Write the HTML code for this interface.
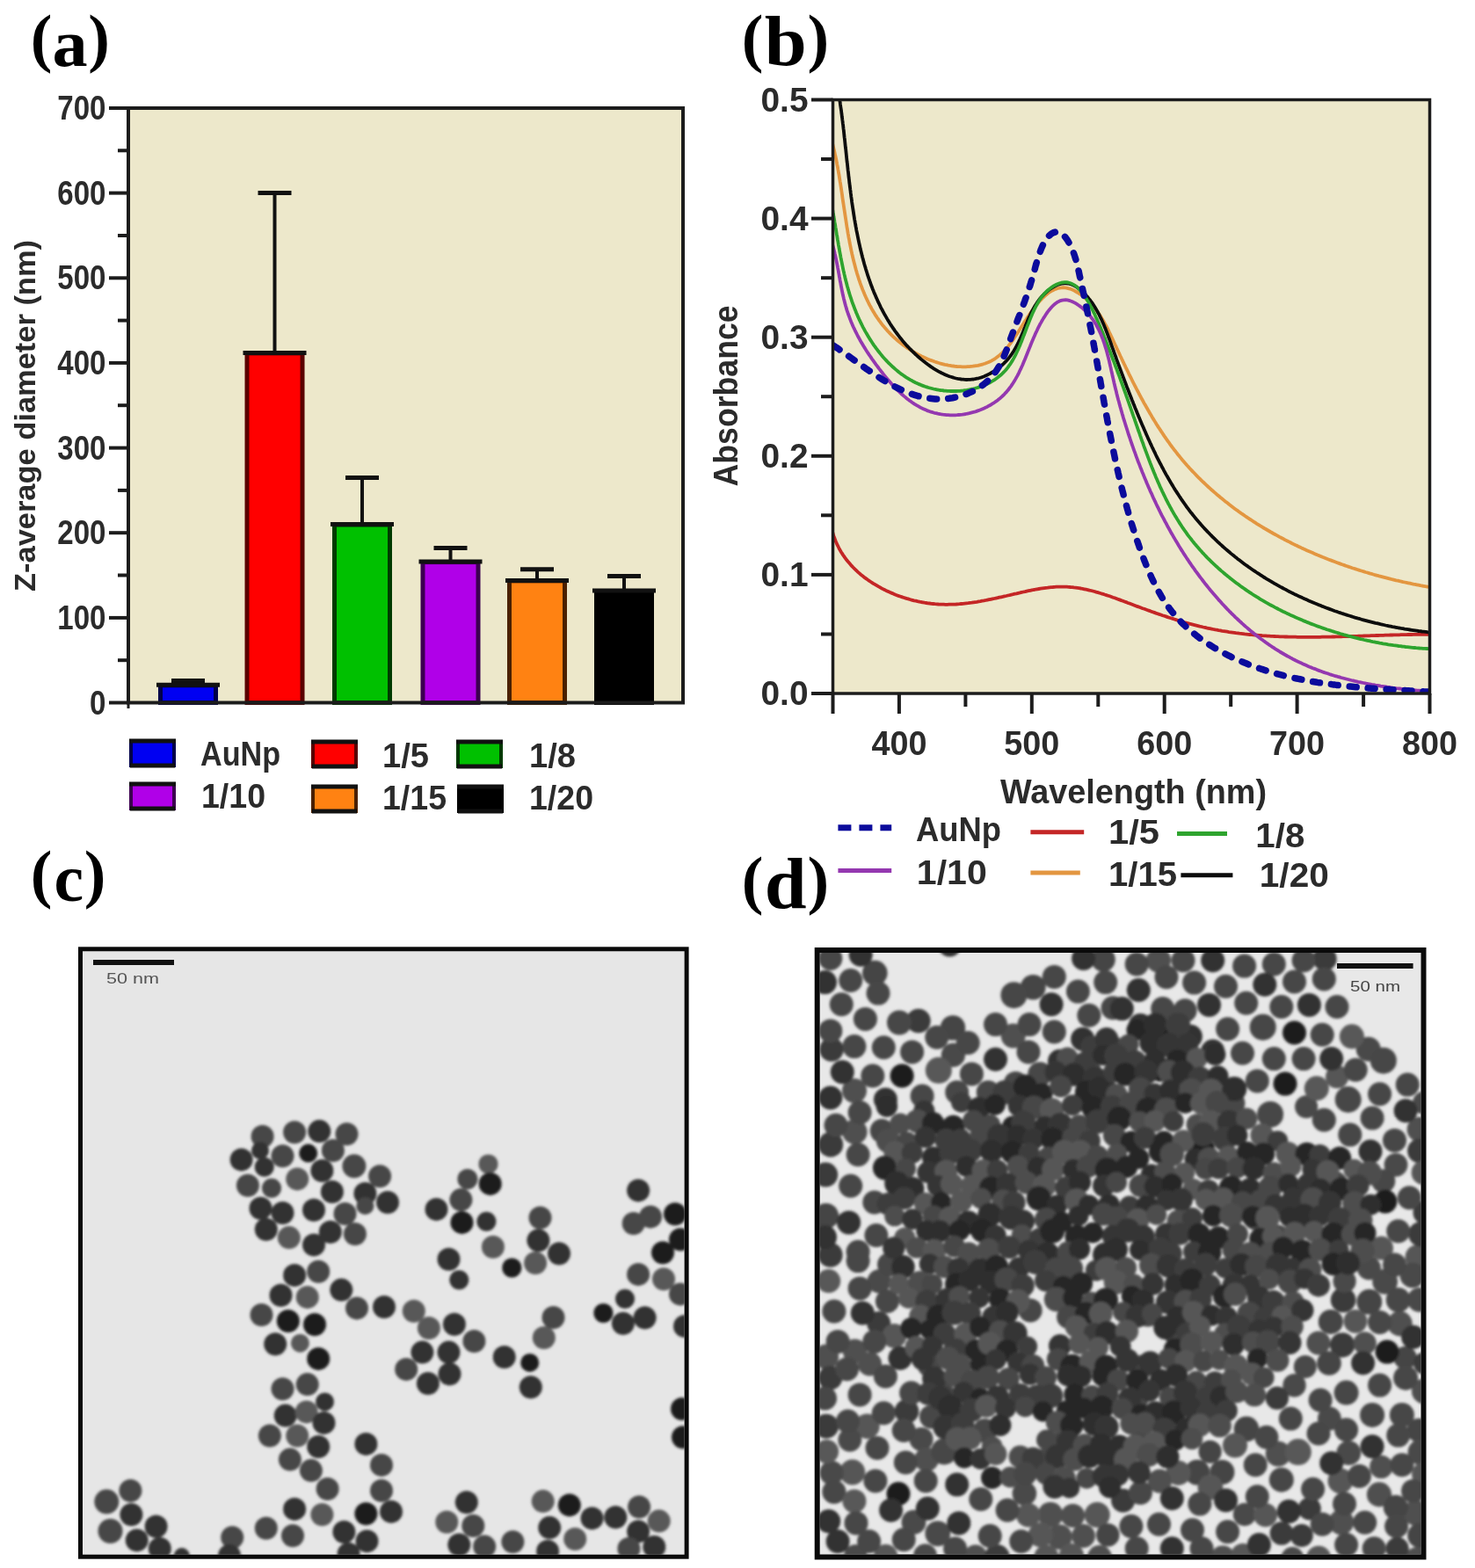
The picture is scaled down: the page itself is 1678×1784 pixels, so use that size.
<!DOCTYPE html>
<html><head><meta charset="utf-8"><title>Figure</title>
<style>html,body{margin:0;padding:0;background:#fff;}svg{display:block;}</style></head>
<body><svg width="1678" height="1784" viewBox="0 0 1678 1784">
<rect width="1678" height="1784" fill="#fff"/>
<text x="34.65" y="68.34" font-size="74.0" fill="#000" style="font-family:'Liberation Serif','Times New Roman',serif;font-weight:bold" textLength="24.64" lengthAdjust="spacingAndGlyphs">(</text>
<text x="59.42" y="74.60" font-size="76.0" fill="#000" style="font-family:'Liberation Serif','Times New Roman',serif;font-weight:bold" textLength="40.10" lengthAdjust="spacingAndGlyphs">a</text>
<text x="100.31" y="68.34" font-size="74.0" fill="#000" style="font-family:'Liberation Serif','Times New Roman',serif;font-weight:bold" textLength="24.64" lengthAdjust="spacingAndGlyphs">)</text>
<text x="843.75" y="68.34" font-size="74.0" fill="#000" style="font-family:'Liberation Serif','Times New Roman',serif;font-weight:bold" textLength="24.64" lengthAdjust="spacingAndGlyphs">(</text>
<text x="869.70" y="73.80" font-size="81.0" fill="#000" style="font-family:'Liberation Serif','Times New Roman',serif;font-weight:bold" textLength="47.99" lengthAdjust="spacingAndGlyphs">b</text>
<text x="918.61" y="68.34" font-size="74.0" fill="#000" style="font-family:'Liberation Serif','Times New Roman',serif;font-weight:bold" textLength="24.64" lengthAdjust="spacingAndGlyphs">)</text>
<text x="34.65" y="1019.34" font-size="74.0" fill="#000" style="font-family:'Liberation Serif','Times New Roman',serif;font-weight:bold" textLength="24.64" lengthAdjust="spacingAndGlyphs">(</text>
<text x="61.61" y="1025.40" font-size="75.5" fill="#000" style="font-family:'Liberation Serif','Times New Roman',serif;font-weight:bold" textLength="33.57" lengthAdjust="spacingAndGlyphs">c</text>
<text x="95.71" y="1019.34" font-size="74.0" fill="#000" style="font-family:'Liberation Serif','Times New Roman',serif;font-weight:bold" textLength="24.64" lengthAdjust="spacingAndGlyphs">)</text>
<text x="843.85" y="1026.34" font-size="74.0" fill="#000" style="font-family:'Liberation Serif','Times New Roman',serif;font-weight:bold" textLength="24.64" lengthAdjust="spacingAndGlyphs">(</text>
<text x="869.81" y="1033.00" font-size="82.0" fill="#000" style="font-family:'Liberation Serif','Times New Roman',serif;font-weight:bold" textLength="47.85" lengthAdjust="spacingAndGlyphs">d</text>
<text x="918.61" y="1026.34" font-size="74.0" fill="#000" style="font-family:'Liberation Serif','Times New Roman',serif;font-weight:bold" textLength="24.64" lengthAdjust="spacingAndGlyphs">)</text>
<rect x="146" y="123" width="631" height="676.5" fill="#ede8cb"/>
<line x1="214.0" y1="777.3" x2="214.0" y2="774.4" stroke="#111" stroke-width="4"/>
<line x1="195.0" y1="774.4" x2="233.0" y2="774.4" stroke="#111" stroke-width="5"/>
<rect x="182.5" y="779.8" width="63.0" height="19.7" fill="#0000f2" stroke="#00004a" stroke-width="5"/>
<line x1="178.0" y1="779.3" x2="250.0" y2="779.3" stroke="#111" stroke-width="5"/>
<line x1="312.5" y1="399.4" x2="312.5" y2="219.6" stroke="#111" stroke-width="4"/>
<line x1="293.5" y1="219.6" x2="331.5" y2="219.6" stroke="#111" stroke-width="5"/>
<rect x="281.0" y="401.9" width="63.0" height="397.6" fill="#ff0000" stroke="#5a0000" stroke-width="5"/>
<line x1="276.5" y1="401.4" x2="348.5" y2="401.4" stroke="#111" stroke-width="5"/>
<line x1="412.0" y1="594.6" x2="412.0" y2="543.4" stroke="#111" stroke-width="4"/>
<line x1="393.0" y1="543.4" x2="431.0" y2="543.4" stroke="#111" stroke-width="5"/>
<rect x="380.5" y="597.1" width="63.0" height="202.4" fill="#00c000" stroke="#003a00" stroke-width="5"/>
<line x1="376.0" y1="596.6" x2="448.0" y2="596.6" stroke="#111" stroke-width="5"/>
<line x1="512.5" y1="637.1" x2="512.5" y2="623.6" stroke="#111" stroke-width="4"/>
<line x1="493.5" y1="623.6" x2="531.5" y2="623.6" stroke="#111" stroke-width="5"/>
<rect x="481.0" y="639.6" width="63.0" height="159.9" fill="#b000e8" stroke="#3c0050" stroke-width="5"/>
<line x1="476.5" y1="639.1" x2="548.5" y2="639.1" stroke="#111" stroke-width="5"/>
<line x1="611.0" y1="658.4" x2="611.0" y2="647.8" stroke="#111" stroke-width="4"/>
<line x1="592.0" y1="647.8" x2="630.0" y2="647.8" stroke="#111" stroke-width="5"/>
<rect x="579.5" y="660.9" width="63.0" height="138.6" fill="#ff8212" stroke="#4a2000" stroke-width="5"/>
<line x1="575.0" y1="660.4" x2="647.0" y2="660.4" stroke="#111" stroke-width="5"/>
<line x1="710.0" y1="670.0" x2="710.0" y2="655.5" stroke="#111" stroke-width="4"/>
<line x1="691.0" y1="655.5" x2="729.0" y2="655.5" stroke="#111" stroke-width="5"/>
<rect x="678.5" y="672.5" width="63.0" height="127.0" fill="#000000" stroke="#000000" stroke-width="5"/>
<line x1="674.0" y1="672.0" x2="746.0" y2="672.0" stroke="#111" stroke-width="5"/>
<rect x="146" y="123" width="631" height="676.5" fill="none" stroke="#1c1c1c" stroke-width="4"/>
<line x1="124" y1="799.5" x2="146" y2="799.5" stroke="#1c1c1c" stroke-width="4"/>
<text x="120.5" y="812.5" font-size="38.0" text-anchor="end" fill="#2b2b2b" style="font-family:'Liberation Sans',Arial,sans-serif;font-weight:bold" textLength="18.4" lengthAdjust="spacingAndGlyphs" >0</text>
<line x1="124" y1="702.9" x2="146" y2="702.9" stroke="#1c1c1c" stroke-width="4"/>
<text x="120.5" y="715.9" font-size="38.0" text-anchor="end" fill="#2b2b2b" style="font-family:'Liberation Sans',Arial,sans-serif;font-weight:bold" textLength="55.2" lengthAdjust="spacingAndGlyphs" >100</text>
<line x1="124" y1="606.2" x2="146" y2="606.2" stroke="#1c1c1c" stroke-width="4"/>
<text x="120.5" y="619.2" font-size="38.0" text-anchor="end" fill="#2b2b2b" style="font-family:'Liberation Sans',Arial,sans-serif;font-weight:bold" textLength="55.2" lengthAdjust="spacingAndGlyphs" >200</text>
<line x1="124" y1="509.6" x2="146" y2="509.6" stroke="#1c1c1c" stroke-width="4"/>
<text x="120.5" y="522.6" font-size="38.0" text-anchor="end" fill="#2b2b2b" style="font-family:'Liberation Sans',Arial,sans-serif;font-weight:bold" textLength="55.2" lengthAdjust="spacingAndGlyphs" >300</text>
<line x1="124" y1="412.9" x2="146" y2="412.9" stroke="#1c1c1c" stroke-width="4"/>
<text x="120.5" y="425.9" font-size="38.0" text-anchor="end" fill="#2b2b2b" style="font-family:'Liberation Sans',Arial,sans-serif;font-weight:bold" textLength="55.2" lengthAdjust="spacingAndGlyphs" >400</text>
<line x1="124" y1="316.3" x2="146" y2="316.3" stroke="#1c1c1c" stroke-width="4"/>
<text x="120.5" y="329.3" font-size="38.0" text-anchor="end" fill="#2b2b2b" style="font-family:'Liberation Sans',Arial,sans-serif;font-weight:bold" textLength="55.2" lengthAdjust="spacingAndGlyphs" >500</text>
<line x1="124" y1="219.6" x2="146" y2="219.6" stroke="#1c1c1c" stroke-width="4"/>
<text x="120.5" y="232.6" font-size="38.0" text-anchor="end" fill="#2b2b2b" style="font-family:'Liberation Sans',Arial,sans-serif;font-weight:bold" textLength="55.2" lengthAdjust="spacingAndGlyphs" >600</text>
<line x1="124" y1="123.0" x2="146" y2="123.0" stroke="#1c1c1c" stroke-width="4"/>
<text x="120.5" y="136.0" font-size="38.0" text-anchor="end" fill="#2b2b2b" style="font-family:'Liberation Sans',Arial,sans-serif;font-weight:bold" textLength="55.2" lengthAdjust="spacingAndGlyphs" >700</text>
<line x1="134" y1="751.2" x2="146" y2="751.2" stroke="#1c1c1c" stroke-width="4"/>
<line x1="134" y1="654.5" x2="146" y2="654.5" stroke="#1c1c1c" stroke-width="4"/>
<line x1="134" y1="557.9" x2="146" y2="557.9" stroke="#1c1c1c" stroke-width="4"/>
<line x1="134" y1="461.2" x2="146" y2="461.2" stroke="#1c1c1c" stroke-width="4"/>
<line x1="134" y1="364.6" x2="146" y2="364.6" stroke="#1c1c1c" stroke-width="4"/>
<line x1="134" y1="268.0" x2="146" y2="268.0" stroke="#1c1c1c" stroke-width="4"/>
<line x1="134" y1="171.3" x2="146" y2="171.3" stroke="#1c1c1c" stroke-width="4"/>
<line x1="146" y1="799.5" x2="146" y2="806" stroke="#1c1c1c" stroke-width="3"/>
<text transform="translate(40,473) rotate(-90)" x="0" y="0" font-size="33" text-anchor="middle" fill="#2b2b2b" style="font-family:'Liberation Sans',Arial,sans-serif;font-weight:bold" textLength="400" lengthAdjust="spacingAndGlyphs">Z-average diameter (nm)</text>
<rect x="149.0" y="843.0" width="49" height="28" fill="#0000f2" stroke="#00004a" stroke-width="4"/>
<line x1="147.0" y1="843.0" x2="200.0" y2="843.0" stroke="#111" stroke-width="5"/>
<line x1="148.0" y1="871.0" x2="199.0" y2="871.0" stroke="#111" stroke-width="5"/>
<text x="228.0" y="870.5" font-size="38.0" text-anchor="start" fill="#2b2b2b" style="font-family:'Liberation Sans',Arial,sans-serif;font-weight:bold" textLength="91.0" lengthAdjust="spacingAndGlyphs" >AuNp</text>
<rect x="356.0" y="844.0" width="49" height="28" fill="#ff0000" stroke="#5a0000" stroke-width="4"/>
<line x1="354.0" y1="844.0" x2="407.0" y2="844.0" stroke="#111" stroke-width="5"/>
<line x1="355.0" y1="872.0" x2="406.0" y2="872.0" stroke="#111" stroke-width="5"/>
<text x="435.0" y="873.4" font-size="38.0" text-anchor="start" fill="#2b2b2b" style="font-family:'Liberation Sans',Arial,sans-serif;font-weight:bold" textLength="53.0" lengthAdjust="spacingAndGlyphs" >1/5</text>
<rect x="521.0" y="844.0" width="49" height="28" fill="#00c000" stroke="#003a00" stroke-width="4"/>
<line x1="519.0" y1="844.0" x2="572.0" y2="844.0" stroke="#111" stroke-width="5"/>
<line x1="520.0" y1="872.0" x2="571.0" y2="872.0" stroke="#111" stroke-width="5"/>
<text x="602.0" y="873.4" font-size="38.0" text-anchor="start" fill="#2b2b2b" style="font-family:'Liberation Sans',Arial,sans-serif;font-weight:bold" textLength="53.0" lengthAdjust="spacingAndGlyphs" >1/8</text>
<rect x="149.0" y="892.0" width="49" height="28" fill="#b000e8" stroke="#3c0050" stroke-width="4"/>
<line x1="147.0" y1="892.0" x2="200.0" y2="892.0" stroke="#111" stroke-width="5"/>
<line x1="148.0" y1="920.0" x2="199.0" y2="920.0" stroke="#111" stroke-width="5"/>
<text x="229.0" y="919.0" font-size="38.0" text-anchor="start" fill="#2b2b2b" style="font-family:'Liberation Sans',Arial,sans-serif;font-weight:bold" textLength="73.0" lengthAdjust="spacingAndGlyphs" >1/10</text>
<rect x="356.0" y="895.0" width="49" height="28" fill="#ff8212" stroke="#4a2000" stroke-width="4"/>
<line x1="354.0" y1="895.0" x2="407.0" y2="895.0" stroke="#111" stroke-width="5"/>
<line x1="355.0" y1="923.0" x2="406.0" y2="923.0" stroke="#111" stroke-width="5"/>
<text x="435.0" y="921.0" font-size="38.0" text-anchor="start" fill="#2b2b2b" style="font-family:'Liberation Sans',Arial,sans-serif;font-weight:bold" textLength="73.0" lengthAdjust="spacingAndGlyphs" >1/15</text>
<rect x="522.0" y="895.0" width="49" height="28" fill="#000000" stroke="#000000" stroke-width="4"/>
<line x1="520.0" y1="895.0" x2="573.0" y2="895.0" stroke="#111" stroke-width="5"/>
<line x1="521.0" y1="923.0" x2="572.0" y2="923.0" stroke="#111" stroke-width="5"/>
<text x="602.0" y="921.0" font-size="38.0" text-anchor="start" fill="#2b2b2b" style="font-family:'Liberation Sans',Arial,sans-serif;font-weight:bold" textLength="73.0" lengthAdjust="spacingAndGlyphs" >1/20</text>
<rect x="947.5" y="113.5" width="679.0" height="675.5" fill="#ede8cb"/>
<defs><clipPath id="cb"><rect x="947.5" y="113.5" width="679.0" height="675.5"/></clipPath></defs>
<g clip-path="url(#cb)" fill="none" stroke-linejoin="round">
<path d="M947.5,606.3L948.0,608.2L948.6,610.1L949.3,612.0L950.0,613.9L950.7,615.7L951.5,617.6L952.3,619.4L953.2,621.2L954.1,623.0L955.0,624.8L956.0,626.5L957.0,628.2L958.1,629.9L959.2,631.6L960.3,633.2L961.5,634.9L962.7,636.5L963.9,638.0L965.2,639.6L966.5,641.1L967.8,642.6L969.2,644.1L970.5,645.5L971.9,646.9L973.4,648.3L974.8,649.7L976.3,651.1L977.8,652.4L979.3,653.7L980.9,654.9L982.5,656.2L984.0,657.4L985.7,658.6L987.3,659.8L988.9,660.9L990.6,662.0L992.3,663.1L993.9,664.2L995.7,665.2L997.4,666.2L999.1,667.2L1000.9,668.2L1002.6,669.2L1004.4,670.1L1006.2,671.0L1008.0,671.9L1009.8,672.7L1011.6,673.5L1013.4,674.4L1015.3,675.1L1017.1,675.9L1019.0,676.7L1020.8,677.4L1022.7,678.1L1024.6,678.7L1026.5,679.4L1028.4,680.0L1030.3,680.6L1032.2,681.2L1034.1,681.7L1036.1,682.3L1038.0,682.8L1039.9,683.3L1041.9,683.7L1043.8,684.2L1045.8,684.6L1047.8,685.0L1049.7,685.3L1051.7,685.7L1053.7,686.0L1055.6,686.3L1057.6,686.5L1059.6,686.8L1061.6,687.0L1063.6,687.2L1065.6,687.3L1067.6,687.5L1069.6,687.6L1071.6,687.7L1073.6,687.7L1075.6,687.8L1077.6,687.8L1079.6,687.7L1081.6,687.7L1083.6,687.6L1085.6,687.6L1087.6,687.5L1089.6,687.3L1091.6,687.2L1093.6,687.0L1095.5,686.8L1097.5,686.6L1099.5,686.4L1101.5,686.2L1103.5,685.9L1105.5,685.7L1107.5,685.4L1109.4,685.1L1111.4,684.8L1113.4,684.4L1115.3,684.1L1117.3,683.7L1119.3,683.4L1121.3,683.0L1123.2,682.6L1125.2,682.2L1127.1,681.8L1129.1,681.4L1131.1,681.0L1133.0,680.6L1135.0,680.2L1136.9,679.7L1138.9,679.3L1140.8,678.9L1142.8,678.4L1144.7,678.0L1146.7,677.5L1148.6,677.1L1150.6,676.6L1152.5,676.2L1154.5,675.7L1156.4,675.3L1158.4,674.8L1160.3,674.4L1162.3,673.9L1164.2,673.5L1166.2,673.1L1168.1,672.6L1170.1,672.2L1172.0,671.8L1174.0,671.4L1176.0,671.0L1177.9,670.7L1179.9,670.3L1181.9,670.0L1183.8,669.7L1185.8,669.4L1187.8,669.1L1189.8,668.8L1191.8,668.6L1193.7,668.3L1195.7,668.1L1197.7,668.0L1199.7,667.8L1201.7,667.7L1203.7,667.6L1205.7,667.6L1207.7,667.6L1209.7,667.6L1211.7,667.6L1213.7,667.7L1215.7,667.8L1217.7,668.0L1219.7,668.1L1221.7,668.4L1223.7,668.6L1225.7,668.9L1227.6,669.2L1229.6,669.5L1231.6,669.9L1233.5,670.3L1235.5,670.7L1237.4,671.1L1239.4,671.6L1241.3,672.0L1243.3,672.5L1245.2,673.0L1247.1,673.6L1249.1,674.1L1251.0,674.7L1252.9,675.3L1254.8,675.8L1256.7,676.5L1258.6,677.1L1260.5,677.7L1262.4,678.3L1264.3,679.0L1266.2,679.7L1268.1,680.3L1269.9,681.0L1271.8,681.7L1273.7,682.4L1275.6,683.1L1277.5,683.7L1279.3,684.4L1281.2,685.1L1283.1,685.9L1284.9,686.6L1286.8,687.3L1288.7,688.0L1290.6,688.7L1292.4,689.4L1294.3,690.1L1296.2,690.8L1298.1,691.5L1299.9,692.2L1301.8,692.8L1303.7,693.5L1305.6,694.2L1307.5,694.9L1309.3,695.6L1311.2,696.2L1313.1,696.9L1315.0,697.6L1316.9,698.2L1318.8,698.9L1320.7,699.5L1322.6,700.2L1324.5,700.8L1326.4,701.4L1328.3,702.1L1330.2,702.7L1332.1,703.3L1334.0,703.9L1335.9,704.5L1337.8,705.1L1339.7,705.7L1341.6,706.3L1343.5,706.8L1345.4,707.4L1347.4,708.0L1349.3,708.5L1351.2,709.0L1353.1,709.6L1355.1,710.1L1357.0,710.6L1358.9,711.1L1360.9,711.6L1362.8,712.1L1364.8,712.6L1366.7,713.0L1368.7,713.5L1370.6,713.9L1372.6,714.4L1374.5,714.8L1376.5,715.2L1378.4,715.6L1380.4,716.0L1382.4,716.4L1384.3,716.7L1386.3,717.1L1388.3,717.4L1390.2,717.8L1392.2,718.1L1394.2,718.4L1396.1,718.7L1398.1,719.1L1400.1,719.3L1402.1,719.6L1404.1,719.9L1406.0,720.2L1408.0,720.4L1410.0,720.7L1412.0,720.9L1414.0,721.1L1416.0,721.4L1418.0,721.6L1420.0,721.8L1421.9,722.0L1423.9,722.2L1425.9,722.4L1427.9,722.5L1429.9,722.7L1431.9,722.9L1433.9,723.0L1435.9,723.2L1437.9,723.3L1439.9,723.4L1441.9,723.6L1443.9,723.7L1445.9,723.8L1447.9,723.9L1449.9,724.0L1451.9,724.1L1453.9,724.2L1455.9,724.3L1457.9,724.3L1459.9,724.4L1461.9,724.5L1463.9,724.5L1465.9,724.6L1467.9,724.6L1469.9,724.7L1471.9,724.7L1473.9,724.7L1475.9,724.8L1477.9,724.8L1479.9,724.8L1481.9,724.8L1483.9,724.8L1485.9,724.8L1487.9,724.8L1489.9,724.8L1491.9,724.8L1493.9,724.8L1495.9,724.8L1497.9,724.8L1499.9,724.8L1501.9,724.8L1503.9,724.7L1505.9,724.7L1507.9,724.7L1509.9,724.6L1511.9,724.6L1513.9,724.6L1515.9,724.5L1517.9,724.5L1519.9,724.4L1521.9,724.4L1523.9,724.3L1525.9,724.3L1527.8,724.2L1529.8,724.2L1531.8,724.1L1533.8,724.1L1535.8,724.0L1537.8,723.9L1539.8,723.9L1541.8,723.8L1543.8,723.8L1545.8,723.7L1547.8,723.6L1549.8,723.6L1551.8,723.5L1553.8,723.4L1555.8,723.4L1557.8,723.3L1559.8,723.2L1561.8,723.2L1563.8,723.1L1565.8,723.0L1567.8,723.0L1569.8,722.9L1571.8,722.8L1573.8,722.8L1575.8,722.7L1577.8,722.7L1579.8,722.6L1581.8,722.5L1583.8,722.5L1585.8,722.4L1587.8,722.4L1589.8,722.3L1591.8,722.3L1593.8,722.2L1595.8,722.2L1597.8,722.1L1599.8,722.1L1601.8,722.0L1603.8,722.0L1605.8,722.0L1607.8,721.9L1609.8,721.9L1611.8,721.9L1613.8,721.9L1615.8,721.8L1617.8,721.8L1619.8,721.8L1621.8,721.8L1623.8,721.8L1625.8,721.8L1625.9,721.8" stroke="#c42626" stroke-width="3.8"/>
<path d="M947.0,163.2L947.5,165.1L948.0,167.1L948.5,169.0L948.9,171.0L949.4,172.9L949.8,174.9L950.2,176.8L950.7,178.8L951.1,180.7L951.5,182.7L951.9,184.6L952.2,186.6L952.6,188.6L953.0,190.5L953.3,192.5L953.7,194.5L954.0,196.5L954.4,198.4L954.7,200.4L955.0,202.4L955.3,204.3L955.6,206.3L956.0,208.3L956.3,210.3L956.6,212.2L956.9,214.2L957.2,216.2L957.5,218.2L957.8,220.2L958.1,222.1L958.3,224.1L958.6,226.1L958.9,228.1L959.2,230.1L959.5,232.0L959.8,234.0L960.1,236.0L960.4,238.0L960.7,239.9L961.0,241.9L961.3,243.9L961.6,245.9L961.9,247.9L962.2,249.8L962.5,251.8L962.8,253.8L963.1,255.8L963.4,257.7L963.7,259.7L964.1,261.7L964.4,263.7L964.7,265.6L965.1,267.6L965.4,269.6L965.8,271.5L966.2,273.5L966.5,275.5L966.9,277.4L967.3,279.4L967.7,281.3L968.1,283.3L968.5,285.3L968.9,287.2L969.3,289.2L969.8,291.1L970.2,293.1L970.7,295.0L971.2,297.0L971.7,298.9L972.2,300.8L972.7,302.8L973.2,304.7L973.7,306.6L974.3,308.6L974.8,310.5L975.4,312.4L976.0,314.3L976.6,316.2L977.2,318.1L977.9,320.0L978.5,321.9L979.2,323.8L979.9,325.7L980.6,327.5L981.3,329.4L982.1,331.2L982.8,333.1L983.6,334.9L984.4,336.8L985.2,338.6L986.1,340.4L986.9,342.2L987.8,344.0L988.7,345.8L989.6,347.6L990.6,349.3L991.5,351.1L992.5,352.8L993.5,354.5L994.6,356.3L995.6,357.9L996.7,359.6L997.8,361.3L999.0,362.9L1000.1,364.6L1001.3,366.2L1002.5,367.8L1003.7,369.4L1005.0,370.9L1006.3,372.5L1007.6,374.0L1008.9,375.5L1010.2,377.0L1011.6,378.4L1013.0,379.9L1014.4,381.3L1015.8,382.7L1017.3,384.0L1018.8,385.4L1020.3,386.7L1021.8,388.0L1023.3,389.3L1024.9,390.5L1026.5,391.7L1028.1,392.9L1029.7,394.1L1031.3,395.3L1033.0,396.4L1034.7,397.5L1036.4,398.6L1038.1,399.6L1039.8,400.6L1041.5,401.6L1043.3,402.6L1045.0,403.6L1046.8,404.5L1048.6,405.4L1050.4,406.2L1052.2,407.1L1054.0,407.9L1055.9,408.7L1057.7,409.4L1059.6,410.1L1061.5,410.8L1063.4,411.5L1065.3,412.1L1067.2,412.7L1069.1,413.3L1071.0,413.8L1072.9,414.3L1074.9,414.8L1076.8,415.2L1078.8,415.6L1080.8,415.9L1082.8,416.3L1084.7,416.5L1086.7,416.8L1088.7,417.0L1090.7,417.1L1092.7,417.2L1094.7,417.3L1096.7,417.3L1098.7,417.3L1100.7,417.2L1102.7,417.1L1104.7,416.9L1106.7,416.7L1108.7,416.4L1110.6,416.1L1112.6,415.8L1114.5,415.3L1116.5,414.8L1118.4,414.3L1120.3,413.7L1122.2,413.0L1124.1,412.3L1125.9,411.5L1127.7,410.6L1129.4,409.6L1131.2,408.6L1132.8,407.5L1134.4,406.3L1136.0,405.1L1137.6,403.8L1139.1,402.5L1140.5,401.1L1141.9,399.7L1143.3,398.2L1144.6,396.7L1145.9,395.2L1147.2,393.7L1148.4,392.1L1149.6,390.5L1150.8,388.9L1152.0,387.3L1153.1,385.6L1154.2,384.0L1155.3,382.3L1156.4,380.6L1157.5,378.9L1158.6,377.3L1159.7,375.6L1160.7,373.9L1161.8,372.2L1162.9,370.5L1164.0,368.8L1165.0,367.1L1166.1,365.4L1167.2,363.8L1168.3,362.1L1169.4,360.4L1170.5,358.8L1171.6,357.1L1172.8,355.5L1173.9,353.8L1175.1,352.2L1176.3,350.6L1177.5,349.0L1178.7,347.4L1180.0,345.9L1181.3,344.3L1182.6,342.8L1183.9,341.4L1185.3,339.9L1186.7,338.5L1188.2,337.1L1189.7,335.8L1191.2,334.5L1192.8,333.3L1194.4,332.2L1196.1,331.1L1197.9,330.2L1199.7,329.3L1201.6,328.6L1203.5,328.0L1205.4,327.6L1207.4,327.3L1209.4,327.2L1211.4,327.4L1213.4,327.6L1215.3,328.1L1217.3,328.6L1219.1,329.3L1221.0,330.1L1222.8,331.0L1224.5,332.0L1226.2,333.0L1227.9,334.1L1229.6,335.2L1231.2,336.4L1232.7,337.7L1234.3,338.9L1235.8,340.3L1237.2,341.6L1238.7,343.0L1240.1,344.5L1241.4,345.9L1242.8,347.4L1244.1,348.9L1245.3,350.5L1246.6,352.0L1247.8,353.6L1248.9,355.3L1250.1,356.9L1251.2,358.6L1252.3,360.2L1253.3,361.9L1254.4,363.7L1255.4,365.4L1256.3,367.1L1257.3,368.9L1258.3,370.6L1259.2,372.4L1260.1,374.2L1261.0,376.0L1261.8,377.8L1262.7,379.6L1263.6,381.4L1264.4,383.2L1265.3,385.0L1266.1,386.8L1266.9,388.7L1267.8,390.5L1268.6,392.3L1269.5,394.1L1270.3,395.9L1271.1,397.7L1272.0,399.5L1272.8,401.4L1273.7,403.2L1274.5,405.0L1275.4,406.8L1276.2,408.6L1277.1,410.4L1277.9,412.2L1278.8,414.0L1279.7,415.8L1280.5,417.6L1281.4,419.4L1282.3,421.2L1283.2,423.0L1284.0,424.8L1284.9,426.6L1285.8,428.4L1286.7,430.2L1287.6,432.0L1288.5,433.8L1289.4,435.6L1290.3,437.3L1291.2,439.1L1292.1,440.9L1293.0,442.7L1294.0,444.5L1294.9,446.2L1295.8,448.0L1296.8,449.8L1297.7,451.5L1298.6,453.3L1299.6,455.0L1300.6,456.8L1301.5,458.6L1302.5,460.3L1303.5,462.0L1304.5,463.8L1305.5,465.5L1306.5,467.3L1307.5,469.0L1308.5,470.7L1309.5,472.4L1310.5,474.2L1311.5,475.9L1312.6,477.6L1313.6,479.3L1314.7,481.0L1315.7,482.7L1316.8,484.4L1317.9,486.1L1319.0,487.7L1320.1,489.4L1321.2,491.1L1322.3,492.7L1323.4,494.4L1324.5,496.1L1325.6,497.7L1326.8,499.4L1327.9,501.0L1329.1,502.6L1330.3,504.2L1331.4,505.9L1332.6,507.5L1333.8,509.1L1335.0,510.7L1336.2,512.3L1337.5,513.8L1338.7,515.4L1339.9,517.0L1341.2,518.5L1342.5,520.1L1343.7,521.6L1345.0,523.2L1346.3,524.7L1347.6,526.2L1348.9,527.7L1350.2,529.2L1351.6,530.7L1352.9,532.2L1354.3,533.7L1355.6,535.1L1357.0,536.6L1358.4,538.0L1359.8,539.5L1361.1,540.9L1362.5,542.3L1364.0,543.8L1365.4,545.2L1366.8,546.6L1368.2,548.0L1369.7,549.3L1371.1,550.7L1372.6,552.1L1374.1,553.5L1375.5,554.8L1377.0,556.1L1378.5,557.5L1380.0,558.8L1381.5,560.1L1383.0,561.4L1384.5,562.7L1386.1,564.0L1387.6,565.3L1389.1,566.6L1390.7,567.8L1392.3,569.1L1393.8,570.4L1395.4,571.6L1397.0,572.8L1398.5,574.1L1400.1,575.3L1401.7,576.5L1403.3,577.7L1404.9,578.9L1406.5,580.1L1408.2,581.2L1409.8,582.4L1411.4,583.6L1413.0,584.7L1414.7,585.8L1416.3,587.0L1418.0,588.1L1419.6,589.2L1421.3,590.3L1423.0,591.4L1424.7,592.5L1426.3,593.6L1428.0,594.7L1429.7,595.8L1431.4,596.8L1433.1,597.9L1434.8,598.9L1436.5,600.0L1438.2,601.0L1440.0,602.0L1441.7,603.0L1443.4,604.0L1445.1,605.0L1446.9,606.0L1448.6,607.0L1450.4,608.0L1452.1,608.9L1453.9,609.9L1455.6,610.9L1457.4,611.8L1459.2,612.7L1460.9,613.7L1462.7,614.6L1464.5,615.5L1466.3,616.4L1468.1,617.3L1469.8,618.2L1471.6,619.1L1473.4,620.0L1475.2,620.8L1477.0,621.7L1478.8,622.5L1480.7,623.4L1482.5,624.2L1484.3,625.1L1486.1,625.9L1487.9,626.7L1489.8,627.5L1491.6,628.3L1493.4,629.1L1495.3,629.9L1497.1,630.7L1499.0,631.5L1500.8,632.2L1502.6,633.0L1504.5,633.8L1506.4,634.5L1508.2,635.2L1510.1,636.0L1511.9,636.7L1513.8,637.4L1515.7,638.1L1517.5,638.8L1519.4,639.5L1521.3,640.2L1523.2,640.9L1525.1,641.6L1526.9,642.3L1528.8,642.9L1530.7,643.6L1532.6,644.2L1534.5,644.9L1536.4,645.5L1538.3,646.2L1540.2,646.8L1542.1,647.4L1544.0,648.0L1545.9,648.6L1547.8,649.2L1549.7,649.8L1551.6,650.4L1553.5,651.0L1555.5,651.5L1557.4,652.1L1559.3,652.7L1561.2,653.2L1563.2,653.8L1565.1,654.3L1567.0,654.8L1568.9,655.4L1570.9,655.9L1572.8,656.4L1574.7,656.9L1576.7,657.4L1578.6,657.9L1580.5,658.4L1582.5,658.9L1584.4,659.3L1586.4,659.8L1588.3,660.3L1590.3,660.7L1592.2,661.2L1594.2,661.6L1596.1,662.1L1598.1,662.5L1600.0,662.9L1602.0,663.3L1603.9,663.7L1605.9,664.2L1607.9,664.6L1609.8,664.9L1611.8,665.3L1613.7,665.7L1615.7,666.1L1617.7,666.5L1619.6,666.8L1621.6,667.2L1623.6,667.5L1625.5,667.9L1625.7,667.9" stroke="#e39640" stroke-width="3.8"/>
<path d="M955.4,114.6L955.7,116.5L955.9,118.5L956.2,120.5L956.5,122.5L956.8,124.4L957.1,126.4L957.3,128.4L957.6,130.4L957.8,132.4L958.1,134.4L958.3,136.3L958.6,138.3L958.8,140.3L959.1,142.3L959.3,144.3L959.5,146.3L959.8,148.3L960.0,150.3L960.2,152.2L960.4,154.2L960.6,156.2L960.9,158.2L961.1,160.2L961.3,162.2L961.5,164.2L961.7,166.2L961.9,168.1L962.2,170.1L962.4,172.1L962.6,174.1L962.8,176.1L963.0,178.1L963.2,180.1L963.4,182.1L963.6,184.1L963.9,186.0L964.1,188.0L964.3,190.0L964.5,192.0L964.7,194.0L965.0,196.0L965.2,198.0L965.4,200.0L965.6,201.9L965.9,203.9L966.1,205.9L966.3,207.9L966.6,209.9L966.8,211.9L967.1,213.9L967.3,215.8L967.6,217.8L967.8,219.8L968.1,221.8L968.3,223.8L968.6,225.8L968.9,227.7L969.1,229.7L969.4,231.7L969.7,233.7L970.0,235.7L970.3,237.6L970.6,239.6L970.9,241.6L971.2,243.6L971.5,245.5L971.8,247.5L972.1,249.5L972.5,251.5L972.8,253.4L973.2,255.4L973.5,257.4L973.9,259.3L974.2,261.3L974.6,263.3L975.0,265.2L975.4,267.2L975.8,269.2L976.2,271.1L976.6,273.1L977.0,275.0L977.4,277.0L977.9,278.9L978.3,280.9L978.7,282.8L979.2,284.8L979.7,286.7L980.2,288.7L980.6,290.6L981.1,292.5L981.7,294.5L982.2,296.4L982.7,298.3L983.2,300.3L983.8,302.2L984.4,304.1L984.9,306.0L985.5,307.9L986.1,309.8L986.7,311.8L987.3,313.7L988.0,315.6L988.6,317.4L989.3,319.3L989.9,321.2L990.6,323.1L991.3,325.0L992.0,326.8L992.7,328.7L993.5,330.6L994.2,332.4L995.0,334.3L995.8,336.1L996.6,338.0L997.4,339.8L998.2,341.6L999.0,343.4L999.9,345.2L1000.8,347.0L1001.6,348.8L1002.5,350.6L1003.5,352.4L1004.4,354.2L1005.3,355.9L1006.3,357.7L1007.3,359.4L1008.3,361.1L1009.3,362.9L1010.3,364.6L1011.4,366.3L1012.4,368.0L1013.5,369.7L1014.6,371.3L1015.7,373.0L1016.9,374.6L1018.0,376.3L1019.2,377.9L1020.4,379.5L1021.6,381.1L1022.8,382.7L1024.0,384.3L1025.3,385.8L1026.6,387.4L1027.9,388.9L1029.2,390.4L1030.5,391.9L1031.8,393.4L1033.2,394.8L1034.6,396.3L1036.0,397.7L1037.4,399.1L1038.8,400.5L1040.3,401.9L1041.7,403.3L1043.2,404.6L1044.7,406.0L1046.2,407.3L1047.7,408.6L1049.3,409.9L1050.8,411.1L1052.4,412.3L1054.0,413.6L1055.6,414.8L1057.2,415.9L1058.9,417.1L1060.5,418.2L1062.2,419.3L1063.9,420.3L1065.6,421.3L1067.3,422.3L1069.1,423.3L1070.9,424.2L1072.7,425.1L1074.5,425.9L1076.3,426.7L1078.2,427.5L1080.0,428.2L1081.9,428.8L1083.8,429.4L1085.8,430.0L1087.7,430.5L1089.7,430.9L1091.6,431.2L1093.6,431.5L1095.6,431.7L1097.6,431.9L1099.6,432.0L1101.6,431.9L1103.6,431.9L1105.6,431.7L1107.6,431.5L1109.5,431.1L1111.5,430.7L1113.4,430.3L1115.4,429.7L1117.3,429.1L1119.1,428.4L1121.0,427.6L1122.8,426.8L1124.6,425.9L1126.4,425.0L1128.1,424.0L1129.8,423.0L1131.5,421.9L1133.2,420.8L1134.8,419.6L1136.4,418.4L1137.9,417.1L1139.5,415.8L1141.0,414.5L1142.4,413.1L1143.8,411.7L1145.2,410.2L1146.5,408.7L1147.8,407.2L1149.0,405.6L1150.2,404.0L1151.3,402.4L1152.4,400.7L1153.5,399.0L1154.5,397.3L1155.5,395.5L1156.4,393.8L1157.4,392.0L1158.3,390.2L1159.1,388.4L1160.0,386.6L1160.8,384.8L1161.6,382.9L1162.4,381.1L1163.2,379.3L1163.9,377.4L1164.7,375.6L1165.4,373.7L1166.2,371.9L1166.9,370.0L1167.7,368.2L1168.5,366.3L1169.2,364.5L1170.0,362.6L1170.8,360.8L1171.7,359.0L1172.5,357.2L1173.4,355.4L1174.3,353.6L1175.3,351.8L1176.2,350.1L1177.2,348.4L1178.3,346.7L1179.4,345.0L1180.5,343.3L1181.7,341.7L1182.9,340.1L1184.2,338.6L1185.5,337.1L1186.9,335.6L1188.3,334.2L1189.8,332.9L1191.3,331.5L1192.8,330.3L1194.4,329.1L1196.0,327.9L1197.7,326.8L1199.5,325.8L1201.2,324.9L1203.1,324.1L1204.9,323.4L1206.9,322.9L1208.8,322.5L1210.8,322.3L1212.8,322.3L1214.8,322.5L1216.8,322.9L1218.7,323.5L1220.5,324.2L1222.3,325.1L1224.0,326.1L1225.7,327.2L1227.3,328.4L1228.9,329.6L1230.4,330.9L1231.9,332.3L1233.3,333.7L1234.7,335.1L1236.0,336.6L1237.4,338.1L1238.6,339.7L1239.9,341.2L1241.1,342.8L1242.3,344.4L1243.4,346.1L1244.5,347.8L1245.6,349.5L1246.6,351.2L1247.6,352.9L1248.6,354.6L1249.5,356.4L1250.5,358.2L1251.3,360.0L1252.2,361.8L1253.1,363.6L1253.9,365.4L1254.7,367.2L1255.5,369.1L1256.3,370.9L1257.0,372.8L1257.8,374.6L1258.5,376.5L1259.2,378.3L1259.9,380.2L1260.6,382.1L1261.3,384.0L1262.0,385.8L1262.7,387.7L1263.4,389.6L1264.0,391.5L1264.7,393.4L1265.4,395.3L1266.1,397.1L1266.7,399.0L1267.4,400.9L1268.1,402.8L1268.8,404.7L1269.5,406.5L1270.1,408.4L1270.8,410.3L1271.5,412.2L1272.2,414.1L1272.9,415.9L1273.6,417.8L1274.3,419.7L1275.0,421.6L1275.7,423.4L1276.4,425.3L1277.1,427.2L1277.8,429.1L1278.5,430.9L1279.2,432.8L1279.9,434.7L1280.6,436.5L1281.3,438.4L1282.0,440.3L1282.7,442.1L1283.5,444.0L1284.2,445.9L1284.9,447.7L1285.6,449.6L1286.4,451.5L1287.1,453.3L1287.8,455.2L1288.6,457.0L1289.3,458.9L1290.1,460.8L1290.8,462.6L1291.5,464.5L1292.3,466.3L1293.1,468.2L1293.8,470.0L1294.6,471.9L1295.3,473.7L1296.1,475.6L1296.9,477.4L1297.6,479.3L1298.4,481.1L1299.2,482.9L1300.0,484.8L1300.8,486.6L1301.6,488.5L1302.4,490.3L1303.2,492.1L1304.0,494.0L1304.8,495.8L1305.6,497.6L1306.4,499.4L1307.3,501.3L1308.1,503.1L1308.9,504.9L1309.8,506.7L1310.6,508.5L1311.5,510.3L1312.3,512.1L1313.2,513.9L1314.1,515.7L1314.9,517.5L1315.8,519.3L1316.7,521.1L1317.6,522.9L1318.5,524.7L1319.4,526.5L1320.4,528.2L1321.3,530.0L1322.2,531.8L1323.2,533.5L1324.1,535.3L1325.1,537.1L1326.0,538.8L1327.0,540.6L1328.0,542.3L1329.0,544.0L1330.0,545.8L1331.0,547.5L1332.0,549.2L1333.0,550.9L1334.1,552.6L1335.1,554.4L1336.1,556.1L1337.2,557.8L1338.3,559.4L1339.4,561.1L1340.5,562.8L1341.6,564.5L1342.7,566.1L1343.8,567.8L1344.9,569.4L1346.1,571.1L1347.2,572.7L1348.4,574.3L1349.5,576.0L1350.7,577.6L1351.9,579.2L1353.1,580.8L1354.3,582.4L1355.6,583.9L1356.8,585.5L1358.1,587.1L1359.3,588.6L1360.6,590.2L1361.9,591.7L1363.2,593.2L1364.5,594.7L1365.8,596.3L1367.1,597.8L1368.4,599.2L1369.8,600.7L1371.1,602.2L1372.5,603.6L1373.9,605.1L1375.3,606.5L1376.7,608.0L1378.1,609.4L1379.5,610.8L1380.9,612.2L1382.4,613.6L1383.8,615.0L1385.2,616.4L1386.7,617.7L1388.2,619.1L1389.7,620.4L1391.1,621.8L1392.6,623.1L1394.1,624.4L1395.7,625.7L1397.2,627.0L1398.7,628.3L1400.2,629.6L1401.8,630.9L1403.3,632.1L1404.9,633.4L1406.5,634.6L1408.0,635.9L1409.6,637.1L1411.2,638.3L1412.8,639.5L1414.4,640.7L1416.0,641.9L1417.6,643.1L1419.3,644.2L1420.9,645.4L1422.5,646.5L1424.2,647.7L1425.8,648.8L1427.5,649.9L1429.1,651.0L1430.8,652.1L1432.5,653.2L1434.2,654.3L1435.9,655.4L1437.5,656.5L1439.2,657.5L1440.9,658.6L1442.7,659.6L1444.4,660.6L1446.1,661.6L1447.8,662.7L1449.5,663.7L1451.3,664.6L1453.0,665.6L1454.8,666.6L1456.5,667.6L1458.3,668.5L1460.0,669.5L1461.8,670.4L1463.6,671.3L1465.4,672.3L1467.1,673.2L1468.9,674.1L1470.7,675.0L1472.5,675.9L1474.3,676.7L1476.1,677.6L1477.9,678.5L1479.7,679.3L1481.5,680.1L1483.4,681.0L1485.2,681.8L1487.0,682.6L1488.8,683.4L1490.7,684.2L1492.5,685.0L1494.3,685.8L1496.2,686.6L1498.0,687.3L1499.9,688.1L1501.8,688.8L1503.6,689.6L1505.5,690.3L1507.3,691.0L1509.2,691.7L1511.1,692.4L1513.0,693.1L1514.8,693.8L1516.7,694.5L1518.6,695.2L1520.5,695.8L1522.4,696.5L1524.3,697.1L1526.2,697.8L1528.1,698.4L1530.0,699.0L1531.9,699.6L1533.8,700.2L1535.7,700.8L1537.6,701.4L1539.5,702.0L1541.4,702.6L1543.3,703.1L1545.3,703.7L1547.2,704.2L1549.1,704.8L1551.0,705.3L1553.0,705.8L1554.9,706.3L1556.8,706.8L1558.8,707.3L1560.7,707.8L1562.7,708.3L1564.6,708.8L1566.5,709.2L1568.5,709.7L1570.4,710.2L1572.4,710.6L1574.3,711.0L1576.3,711.5L1578.3,711.9L1580.2,712.3L1582.2,712.7L1584.1,713.1L1586.1,713.4L1588.1,713.8L1590.0,714.2L1592.0,714.5L1594.0,714.9L1595.9,715.2L1597.9,715.6L1599.9,715.9L1601.9,716.2L1603.8,716.5L1605.8,716.8L1607.8,717.1L1609.8,717.4L1611.7,717.7L1613.7,718.0L1615.7,718.2L1617.7,718.5L1619.7,718.7L1621.7,718.9L1623.7,719.2L1625.5,719.4" stroke="#0c0c0c" stroke-width="3.8"/>
<path d="M946.9,237.4L947.3,239.3L947.6,241.3L948.0,243.3L948.3,245.2L948.6,247.2L949.0,249.2L949.3,251.2L949.6,253.1L950.0,255.1L950.3,257.1L950.6,259.1L951.0,261.0L951.3,263.0L951.6,265.0L951.9,266.9L952.3,268.9L952.6,270.9L952.9,272.9L953.3,274.8L953.6,276.8L953.9,278.8L954.3,280.7L954.6,282.7L955.0,284.7L955.3,286.7L955.7,288.6L956.1,290.6L956.4,292.6L956.8,294.5L957.2,296.5L957.6,298.4L958.0,300.4L958.4,302.4L958.8,304.3L959.2,306.3L959.6,308.2L960.1,310.2L960.5,312.1L961.0,314.1L961.4,316.0L961.9,318.0L962.4,319.9L962.9,321.8L963.4,323.8L963.9,325.7L964.5,327.6L965.0,329.6L965.6,331.5L966.1,333.4L966.7,335.3L967.3,337.2L968.0,339.1L968.6,341.0L969.2,342.9L969.9,344.8L970.6,346.7L971.3,348.5L972.0,350.4L972.7,352.3L973.5,354.1L974.2,356.0L975.0,357.8L975.8,359.7L976.6,361.5L977.4,363.3L978.3,365.1L979.1,366.9L980.0,368.7L980.9,370.5L981.8,372.3L982.8,374.1L983.7,375.8L984.7,377.6L985.7,379.3L986.7,381.0L987.7,382.7L988.8,384.5L989.8,386.2L990.9,387.8L992.0,389.5L993.1,391.2L994.2,392.8L995.4,394.4L996.6,396.1L997.8,397.7L999.0,399.3L1000.2,400.8L1001.5,402.4L1002.7,403.9L1004.0,405.5L1005.3,407.0L1006.7,408.5L1008.0,409.9L1009.4,411.4L1010.8,412.8L1012.2,414.2L1013.7,415.6L1015.1,417.0L1016.6,418.3L1018.1,419.6L1019.6,420.9L1021.2,422.2L1022.7,423.5L1024.3,424.7L1025.9,425.9L1027.6,427.0L1029.2,428.2L1030.9,429.3L1032.6,430.3L1034.3,431.4L1036.0,432.4L1037.8,433.3L1039.5,434.3L1041.3,435.2L1043.1,436.0L1044.9,436.9L1046.8,437.6L1048.6,438.4L1050.5,439.1L1052.4,439.8L1054.3,440.4L1056.2,441.0L1058.1,441.5L1060.1,442.0L1062.0,442.5L1064.0,442.9L1065.9,443.3L1067.9,443.7L1069.9,444.0L1071.9,444.2L1073.8,444.5L1075.8,444.6L1077.8,444.8L1079.8,444.9L1081.8,445.0L1083.8,445.0L1085.8,445.0L1087.8,445.0L1089.8,444.9L1091.8,444.8L1093.8,444.6L1095.8,444.4L1097.8,444.1L1099.8,443.9L1101.7,443.5L1103.7,443.1L1105.7,442.7L1107.6,442.3L1109.5,441.8L1111.5,441.2L1113.4,440.6L1115.3,440.0L1117.1,439.3L1119.0,438.6L1120.8,437.8L1122.7,437.0L1124.5,436.1L1126.2,435.2L1128.0,434.2L1129.7,433.2L1131.4,432.1L1133.0,431.0L1134.7,429.8L1136.2,428.6L1137.8,427.3L1139.3,426.0L1140.7,424.6L1142.1,423.2L1143.5,421.7L1144.8,420.2L1146.1,418.6L1147.3,417.0L1148.4,415.4L1149.6,413.8L1150.6,412.1L1151.7,410.4L1152.7,408.6L1153.7,406.9L1154.6,405.1L1155.5,403.3L1156.4,401.5L1157.2,399.7L1158.1,397.9L1158.9,396.1L1159.7,394.3L1160.5,392.4L1161.2,390.6L1162.0,388.7L1162.7,386.9L1163.4,385.0L1164.1,383.1L1164.9,381.3L1165.6,379.4L1166.3,377.5L1167.0,375.6L1167.7,373.8L1168.4,371.9L1169.1,370.0L1169.9,368.2L1170.6,366.3L1171.3,364.5L1172.1,362.6L1172.8,360.8L1173.6,358.9L1174.4,357.1L1175.2,355.3L1176.1,353.4L1176.9,351.6L1177.8,349.8L1178.7,348.0L1179.7,346.3L1180.6,344.5L1181.7,342.8L1182.7,341.1L1183.9,339.5L1185.0,337.9L1186.3,336.3L1187.6,334.8L1188.9,333.3L1190.3,331.9L1191.8,330.5L1193.3,329.2L1194.9,328.0L1196.5,326.8L1198.2,325.7L1199.9,324.7L1201.7,323.8L1203.5,323.0L1205.4,322.3L1207.3,321.7L1209.2,321.4L1211.2,321.2L1213.2,321.2L1215.2,321.5L1217.2,322.0L1219.0,322.7L1220.8,323.6L1222.5,324.6L1224.1,325.8L1225.7,327.1L1227.1,328.4L1228.5,329.9L1229.8,331.4L1231.1,332.9L1232.3,334.5L1233.5,336.1L1234.6,337.8L1235.7,339.5L1236.7,341.2L1237.8,342.9L1238.7,344.6L1239.7,346.4L1240.6,348.2L1241.6,349.9L1242.5,351.7L1243.3,353.5L1244.2,355.3L1245.1,357.1L1245.9,358.9L1246.7,360.8L1247.6,362.6L1248.4,364.4L1249.2,366.2L1250.0,368.1L1250.8,369.9L1251.6,371.8L1252.3,373.6L1253.1,375.4L1253.9,377.3L1254.6,379.1L1255.4,381.0L1256.1,382.9L1256.9,384.7L1257.6,386.6L1258.3,388.4L1259.1,390.3L1259.8,392.2L1260.5,394.0L1261.2,395.9L1261.9,397.8L1262.7,399.6L1263.4,401.5L1264.1,403.4L1264.8,405.2L1265.5,407.1L1266.2,409.0L1266.9,410.8L1267.6,412.7L1268.3,414.6L1269.0,416.5L1269.7,418.3L1270.4,420.2L1271.1,422.1L1271.8,424.0L1272.5,425.8L1273.2,427.7L1273.9,429.6L1274.6,431.5L1275.2,433.3L1275.9,435.2L1276.6,437.1L1277.3,439.0L1278.0,440.9L1278.6,442.8L1279.3,444.6L1280.0,446.5L1280.7,448.4L1281.3,450.3L1282.0,452.2L1282.7,454.1L1283.3,455.9L1284.0,457.8L1284.6,459.7L1285.3,461.6L1286.0,463.5L1286.6,465.4L1287.3,467.3L1287.9,469.2L1288.6,471.1L1289.2,472.9L1289.9,474.8L1290.6,476.7L1291.2,478.6L1291.9,480.5L1292.5,482.4L1293.2,484.3L1293.8,486.2L1294.5,488.1L1295.1,490.0L1295.8,491.8L1296.5,493.7L1297.1,495.6L1297.8,497.5L1298.4,499.4L1299.1,501.3L1299.8,503.2L1300.5,505.0L1301.1,506.9L1301.8,508.8L1302.5,510.7L1303.2,512.6L1303.9,514.4L1304.6,516.3L1305.3,518.2L1306.0,520.1L1306.7,521.9L1307.4,523.8L1308.1,525.7L1308.8,527.5L1309.6,529.4L1310.3,531.3L1311.0,533.1L1311.8,535.0L1312.5,536.8L1313.3,538.7L1314.1,540.5L1314.8,542.4L1315.6,544.2L1316.4,546.0L1317.2,547.9L1318.0,549.7L1318.8,551.5L1319.6,553.4L1320.4,555.2L1321.3,557.0L1322.1,558.8L1323.0,560.6L1323.8,562.4L1324.7,564.2L1325.6,566.0L1326.5,567.8L1327.4,569.6L1328.3,571.4L1329.2,573.2L1330.2,574.9L1331.1,576.7L1332.1,578.4L1333.0,580.2L1334.0,581.9L1335.0,583.7L1336.0,585.4L1337.0,587.1L1338.1,588.8L1339.1,590.5L1340.2,592.2L1341.2,593.9L1342.3,595.6L1343.4,597.3L1344.5,599.0L1345.6,600.6L1346.8,602.3L1347.9,603.9L1349.1,605.5L1350.2,607.1L1351.4,608.8L1352.6,610.4L1353.8,611.9L1355.1,613.5L1356.3,615.1L1357.6,616.7L1358.8,618.2L1360.1,619.7L1361.4,621.3L1362.7,622.8L1364.0,624.3L1365.3,625.8L1366.7,627.3L1368.0,628.8L1369.4,630.2L1370.8,631.7L1372.1,633.1L1373.5,634.6L1374.9,636.0L1376.4,637.4L1377.8,638.8L1379.2,640.2L1380.7,641.6L1382.1,642.9L1383.6,644.3L1385.1,645.6L1386.5,647.0L1388.0,648.3L1389.5,649.6L1391.1,650.9L1392.6,652.2L1394.1,653.5L1395.7,654.8L1397.2,656.1L1398.8,657.3L1400.3,658.6L1401.9,659.8L1403.5,661.0L1405.1,662.2L1406.7,663.4L1408.3,664.6L1409.9,665.8L1411.5,667.0L1413.1,668.1L1414.8,669.3L1416.4,670.4L1418.1,671.6L1419.7,672.7L1421.4,673.8L1423.1,674.9L1424.7,676.0L1426.4,677.1L1428.1,678.1L1429.8,679.2L1431.5,680.2L1433.2,681.3L1434.9,682.3L1436.7,683.3L1438.4,684.3L1440.1,685.3L1441.9,686.3L1443.6,687.3L1445.3,688.3L1447.1,689.2L1448.9,690.2L1450.6,691.1L1452.4,692.0L1454.2,693.0L1456.0,693.9L1457.7,694.8L1459.5,695.7L1461.3,696.5L1463.1,697.4L1464.9,698.3L1466.7,699.1L1468.6,700.0L1470.4,700.8L1472.2,701.6L1474.0,702.4L1475.9,703.3L1477.7,704.0L1479.5,704.8L1481.4,705.6L1483.2,706.4L1485.1,707.1L1486.9,707.9L1488.8,708.6L1490.6,709.4L1492.5,710.1L1494.4,710.8L1496.3,711.5L1498.1,712.2L1500.0,712.9L1501.9,713.5L1503.8,714.2L1505.7,714.9L1507.6,715.5L1509.5,716.2L1511.4,716.8L1513.3,717.4L1515.2,718.0L1517.1,718.6L1519.0,719.2L1520.9,719.8L1522.8,720.4L1524.7,721.0L1526.6,721.5L1528.6,722.1L1530.5,722.6L1532.4,723.1L1534.3,723.7L1536.3,724.2L1538.2,724.7L1540.1,725.2L1542.1,725.7L1544.0,726.1L1546.0,726.6L1547.9,727.1L1549.9,727.5L1551.8,728.0L1553.8,728.4L1555.7,728.8L1557.7,729.2L1559.6,729.7L1561.6,730.1L1563.6,730.4L1565.5,730.8L1567.5,731.2L1569.5,731.6L1571.4,731.9L1573.4,732.3L1575.4,732.6L1577.3,732.9L1579.3,733.3L1581.3,733.6L1583.3,733.9L1585.2,734.2L1587.2,734.4L1589.2,734.7L1591.2,735.0L1593.2,735.2L1595.2,735.5L1597.1,735.7L1599.1,736.0L1601.1,736.2L1603.1,736.4L1605.1,736.6L1607.1,736.8L1609.1,737.0L1611.1,737.2L1613.1,737.3L1615.1,737.5L1617.0,737.6L1619.0,737.8L1621.0,737.9L1623.0,738.0L1625.0,738.1L1625.5,738.1" stroke="#2ea42e" stroke-width="3.8"/>
<path d="M946.8,277.2L947.4,279.2L947.9,281.1L948.4,283.0L948.9,285.0L949.4,286.9L949.8,288.9L950.3,290.8L950.7,292.8L951.1,294.7L951.5,296.7L951.9,298.6L952.3,300.6L952.7,302.6L953.0,304.5L953.4,306.5L953.8,308.5L954.1,310.4L954.5,312.4L954.8,314.4L955.2,316.3L955.5,318.3L955.9,320.3L956.3,322.2L956.6,324.2L957.0,326.2L957.4,328.1L957.8,330.1L958.2,332.1L958.6,334.0L959.0,336.0L959.5,337.9L959.9,339.9L960.4,341.8L960.9,343.7L961.4,345.7L961.9,347.6L962.5,349.5L963.0,351.4L963.6,353.4L964.3,355.3L964.9,357.2L965.6,359.0L966.3,360.9L967.0,362.8L967.7,364.6L968.4,366.5L969.2,368.3L970.0,370.2L970.8,372.0L971.7,373.8L972.5,375.6L973.4,377.4L974.3,379.2L975.2,381.0L976.1,382.8L977.1,384.5L978.1,386.3L979.0,388.0L980.0,389.7L981.1,391.5L982.1,393.2L983.1,394.9L984.2,396.6L985.2,398.3L986.3,400.0L987.4,401.6L988.5,403.3L989.7,405.0L990.8,406.6L991.9,408.3L993.1,409.9L994.2,411.5L995.4,413.1L996.6,414.8L997.8,416.4L999.0,418.0L1000.2,419.6L1001.4,421.1L1002.6,422.7L1003.9,424.3L1005.1,425.9L1006.3,427.4L1007.6,429.0L1008.9,430.5L1010.2,432.1L1011.5,433.6L1012.8,435.1L1014.1,436.6L1015.5,438.1L1016.8,439.5L1018.2,441.0L1019.6,442.4L1021.0,443.8L1022.4,445.2L1023.9,446.6L1025.3,448.0L1026.8,449.3L1028.3,450.6L1029.9,451.9L1031.4,453.2L1033.0,454.4L1034.6,455.7L1036.2,456.8L1037.8,458.0L1039.5,459.1L1041.1,460.2L1042.8,461.2L1044.6,462.2L1046.3,463.2L1048.1,464.1L1049.9,465.0L1051.7,465.8L1053.6,466.6L1055.4,467.4L1057.3,468.0L1059.2,468.7L1061.1,469.2L1063.0,469.8L1065.0,470.2L1066.9,470.7L1068.9,471.0L1070.9,471.4L1072.9,471.7L1074.8,471.9L1076.8,472.1L1078.8,472.2L1080.8,472.3L1082.8,472.3L1084.8,472.3L1086.8,472.3L1088.8,472.2L1090.8,472.0L1092.8,471.8L1094.8,471.6L1096.8,471.3L1098.7,471.0L1100.7,470.6L1102.7,470.2L1104.6,469.7L1106.5,469.2L1108.5,468.7L1110.4,468.1L1112.3,467.4L1114.2,466.7L1116.0,466.0L1117.9,465.2L1119.7,464.4L1121.5,463.6L1123.3,462.7L1125.0,461.7L1126.8,460.8L1128.5,459.7L1130.2,458.7L1131.9,457.5L1133.5,456.4L1135.1,455.2L1136.6,453.9L1138.2,452.7L1139.7,451.3L1141.1,450.0L1142.6,448.6L1143.9,447.1L1145.3,445.6L1146.6,444.1L1147.8,442.5L1149.0,440.9L1150.2,439.3L1151.3,437.7L1152.4,436.0L1153.5,434.3L1154.5,432.6L1155.5,430.9L1156.5,429.1L1157.5,427.4L1158.4,425.6L1159.3,423.8L1160.1,422.0L1161.0,420.2L1161.8,418.4L1162.7,416.5L1163.5,414.7L1164.2,412.9L1165.0,411.0L1165.8,409.2L1166.6,407.3L1167.3,405.5L1168.1,403.6L1168.8,401.8L1169.5,399.9L1170.3,398.1L1171.0,396.2L1171.8,394.3L1172.5,392.5L1173.3,390.6L1174.0,388.8L1174.8,386.9L1175.6,385.1L1176.4,383.3L1177.2,381.4L1178.0,379.6L1178.8,377.8L1179.7,376.0L1180.5,374.2L1181.4,372.4L1182.3,370.6L1183.2,368.8L1184.2,367.1L1185.2,365.3L1186.2,363.6L1187.2,361.9L1188.3,360.2L1189.4,358.5L1190.5,356.8L1191.6,355.2L1192.8,353.6L1194.1,352.0L1195.4,350.5L1196.7,349.0L1198.1,347.6L1199.6,346.3L1201.2,345.0L1202.8,343.9L1204.6,342.9L1206.4,342.1L1208.3,341.6L1210.3,341.3L1212.3,341.2L1214.3,341.4L1216.2,341.9L1218.1,342.5L1220.0,343.2L1221.8,344.1L1223.6,345.0L1225.3,346.1L1226.9,347.2L1228.6,348.4L1230.1,349.6L1231.7,350.9L1233.2,352.2L1234.6,353.5L1236.1,355.0L1237.4,356.4L1238.8,357.9L1240.1,359.4L1241.3,361.0L1242.5,362.6L1243.7,364.2L1244.8,365.9L1245.8,367.6L1246.9,369.3L1247.8,371.0L1248.8,372.8L1249.7,374.6L1250.6,376.4L1251.4,378.2L1252.2,380.0L1253.0,381.9L1253.7,383.7L1254.5,385.6L1255.1,387.5L1255.8,389.4L1256.4,391.3L1257.0,393.2L1257.6,395.1L1258.2,397.0L1258.8,398.9L1259.3,400.8L1259.8,402.8L1260.3,404.7L1260.8,406.6L1261.3,408.6L1261.8,410.5L1262.2,412.5L1262.7,414.4L1263.1,416.4L1263.6,418.3L1264.0,420.3L1264.4,422.2L1264.9,424.2L1265.3,426.1L1265.7,428.1L1266.2,430.0L1266.6,432.0L1267.1,433.9L1267.5,435.9L1268.0,437.8L1268.4,439.8L1268.9,441.7L1269.4,443.7L1269.9,445.6L1270.3,447.5L1270.8,449.5L1271.3,451.4L1271.8,453.4L1272.3,455.3L1272.9,457.2L1273.4,459.2L1273.9,461.1L1274.4,463.0L1275.0,464.9L1275.5,466.9L1276.1,468.8L1276.6,470.7L1277.2,472.6L1277.7,474.5L1278.3,476.5L1278.9,478.4L1279.5,480.3L1280.1,482.2L1280.7,484.1L1281.3,486.0L1281.9,487.9L1282.5,489.8L1283.1,491.7L1283.7,493.6L1284.3,495.5L1285.0,497.4L1285.6,499.3L1286.2,501.2L1286.9,503.1L1287.5,505.0L1288.2,506.9L1288.9,508.8L1289.5,510.7L1290.2,512.6L1290.9,514.4L1291.6,516.3L1292.2,518.2L1292.9,520.1L1293.6,521.9L1294.3,523.8L1295.0,525.7L1295.8,527.6L1296.5,529.4L1297.2,531.3L1297.9,533.1L1298.7,535.0L1299.4,536.9L1300.2,538.7L1300.9,540.6L1301.7,542.4L1302.4,544.3L1303.2,546.1L1304.0,548.0L1304.7,549.8L1305.5,551.6L1306.3,553.5L1307.1,555.3L1307.9,557.1L1308.7,559.0L1309.6,560.8L1310.4,562.6L1311.2,564.4L1312.0,566.3L1312.9,568.1L1313.7,569.9L1314.6,571.7L1315.4,573.5L1316.3,575.3L1317.2,577.1L1318.1,578.9L1318.9,580.7L1319.8,582.5L1320.7,584.3L1321.6,586.1L1322.5,587.8L1323.5,589.6L1324.4,591.4L1325.3,593.2L1326.3,594.9L1327.2,596.7L1328.1,598.5L1329.1,600.2L1330.1,602.0L1331.0,603.7L1332.0,605.5L1333.0,607.2L1334.0,608.9L1335.0,610.7L1336.0,612.4L1337.0,614.1L1338.0,615.8L1339.1,617.6L1340.1,619.3L1341.1,621.0L1342.2,622.7L1343.2,624.4L1344.3,626.1L1345.4,627.8L1346.4,629.4L1347.5,631.1L1348.6,632.8L1349.7,634.5L1350.8,636.1L1351.9,637.8L1353.0,639.5L1354.2,641.1L1355.3,642.8L1356.4,644.4L1357.6,646.0L1358.8,647.7L1359.9,649.3L1361.1,650.9L1362.3,652.5L1363.5,654.1L1364.6,655.8L1365.9,657.4L1367.1,658.9L1368.3,660.5L1369.5,662.1L1370.7,663.7L1372.0,665.3L1373.2,666.8L1374.5,668.4L1375.7,669.9L1377.0,671.5L1378.3,673.0L1379.6,674.5L1380.9,676.1L1382.2,677.6L1383.5,679.1L1384.8,680.6L1386.1,682.1L1387.5,683.6L1388.8,685.1L1390.1,686.6L1391.5,688.0L1392.9,689.5L1394.2,690.9L1395.6,692.4L1397.0,693.8L1398.4,695.3L1399.8,696.7L1401.2,698.1L1402.7,699.5L1404.1,700.9L1405.5,702.3L1407.0,703.7L1408.4,705.0L1409.9,706.4L1411.4,707.7L1412.8,709.1L1414.3,710.4L1415.8,711.8L1417.3,713.1L1418.9,714.4L1420.4,715.7L1421.9,717.0L1423.4,718.2L1425.0,719.5L1426.5,720.8L1428.1,722.0L1429.7,723.2L1431.3,724.5L1432.9,725.7L1434.5,726.9L1436.1,728.1L1437.7,729.3L1439.3,730.4L1440.9,731.6L1442.6,732.7L1444.2,733.9L1445.9,735.0L1447.5,736.1L1449.2,737.2L1450.9,738.3L1452.6,739.3L1454.3,740.4L1456.0,741.5L1457.7,742.5L1459.4,743.5L1461.1,744.5L1462.9,745.5L1464.6,746.5L1466.4,747.4L1468.1,748.4L1469.9,749.3L1471.7,750.3L1473.5,751.2L1475.2,752.1L1477.0,752.9L1478.8,753.8L1480.7,754.6L1482.5,755.5L1484.3,756.3L1486.1,757.1L1488.0,757.9L1489.8,758.7L1491.7,759.4L1493.5,760.2L1495.4,760.9L1497.2,761.6L1499.1,762.4L1501.0,763.1L1502.9,763.7L1504.7,764.4L1506.6,765.1L1508.5,765.7L1510.4,766.3L1512.3,767.0L1514.2,767.6L1516.1,768.2L1518.0,768.8L1520.0,769.3L1521.9,769.9L1523.8,770.4L1525.7,771.0L1527.7,771.5L1529.6,772.0L1531.5,772.5L1533.5,773.0L1535.4,773.5L1537.4,774.0L1539.3,774.4L1541.2,774.9L1543.2,775.3L1545.1,775.8L1547.1,776.2L1549.1,776.6L1551.0,777.0L1553.0,777.4L1554.9,777.8L1556.9,778.2L1558.9,778.5L1560.8,778.9L1562.8,779.2L1564.8,779.6L1566.8,779.9L1568.7,780.2L1570.7,780.6L1572.7,780.9L1574.7,781.2L1576.6,781.5L1578.6,781.8L1580.6,782.0L1582.6,782.3L1584.6,782.6L1586.5,782.8L1588.5,783.1L1590.5,783.3L1592.5,783.5L1594.5,783.8L1596.5,784.0L1598.5,784.2L1600.4,784.4L1602.4,784.6L1604.4,784.8L1606.4,785.0L1608.4,785.2L1610.4,785.4L1612.4,785.6L1614.4,785.7L1616.4,785.9L1618.4,786.0L1620.4,786.2L1622.4,786.3L1624.4,786.5L1625.9,786.6" stroke="#9438b0" stroke-width="3.8"/>
<path d="M948.4,393.3L950.0,394.4L951.7,395.5L953.4,396.6L955.0,397.8L956.6,398.9L958.3,400.1L959.9,401.2L961.5,402.4L963.2,403.5L964.8,404.7L966.4,405.9L968.0,407.0L969.7,408.2L971.3,409.4L972.9,410.6L974.5,411.7L976.1,412.9L977.8,414.1L979.4,415.2L981.0,416.4L982.7,417.6L984.3,418.7L985.9,419.9L987.6,421.0L989.2,422.1L990.9,423.3L992.5,424.4L994.2,425.5L995.8,426.6L997.5,427.7L999.2,428.8L1000.9,429.9L1002.5,431.0L1004.2,432.0L1006.0,433.1L1007.7,434.1L1009.4,435.1L1011.1,436.1L1012.9,437.1L1014.6,438.1L1016.4,439.0L1018.1,440.0L1019.9,440.9L1021.7,441.8L1023.5,442.6L1025.3,443.5L1027.1,444.3L1029.0,445.1L1030.8,445.9L1032.7,446.6L1034.5,447.3L1036.4,448.0L1038.3,448.7L1040.2,449.3L1042.1,449.9L1044.0,450.5L1046.0,451.0L1047.9,451.5L1049.9,451.9L1051.8,452.3L1053.8,452.7L1055.8,453.0L1057.7,453.3L1059.7,453.5L1061.7,453.7L1063.7,453.9L1065.7,454.0L1067.7,454.0L1069.7,454.0L1071.7,454.0L1073.7,453.9L1075.7,453.7L1077.7,453.5L1079.7,453.3L1081.7,453.0L1083.6,452.7L1085.6,452.3L1087.5,451.9L1089.5,451.4L1091.4,450.9L1093.4,450.4L1095.3,449.8L1097.2,449.1L1099.0,448.5L1100.9,447.7L1102.7,446.9L1104.6,446.1L1106.4,445.3L1108.1,444.3L1109.9,443.4L1111.6,442.4L1113.3,441.3L1115.0,440.2L1116.6,439.1L1118.2,437.9L1119.8,436.7L1121.4,435.4L1122.9,434.1L1124.3,432.7L1125.7,431.3L1127.1,429.8L1128.5,428.4L1129.7,426.8L1131.0,425.3L1132.2,423.6L1133.3,422.0L1134.4,420.3L1135.4,418.6L1136.5,416.9L1137.4,415.1L1138.4,413.4L1139.3,411.6L1140.1,409.8L1141.0,408.0L1141.8,406.2L1142.6,404.3L1143.4,402.5L1144.1,400.6L1144.8,398.8L1145.6,396.9L1146.3,395.0L1146.9,393.1L1147.6,391.3L1148.3,389.4L1149.0,387.5L1149.7,385.6L1150.3,383.7L1151.0,381.8L1151.7,380.0L1152.4,378.1L1153.1,376.2L1153.8,374.3L1154.5,372.5L1155.2,370.6L1155.9,368.7L1156.6,366.9L1157.3,365.0L1158.0,363.1L1158.7,361.3L1159.5,359.4L1160.2,357.5L1160.9,355.6L1161.6,353.8L1162.3,351.9L1163.0,350.0L1163.7,348.2L1164.4,346.3L1165.1,344.4L1165.8,342.5L1166.4,340.6L1167.1,338.8L1167.8,336.9L1168.4,335.0L1169.1,333.1L1169.7,331.2L1170.3,329.3L1171.0,327.4L1171.6,325.5L1172.2,323.6L1172.7,321.7L1173.3,319.8L1173.9,317.8L1174.5,315.9L1175.0,314.0L1175.6,312.1L1176.1,310.1L1176.6,308.2L1177.2,306.3L1177.7,304.4L1178.2,302.4L1178.8,300.5L1179.3,298.6L1179.9,296.7L1180.5,294.8L1181.1,292.8L1181.7,290.9L1182.3,289.0L1183.0,287.2L1183.7,285.3L1184.4,283.4L1185.2,281.6L1186.0,279.7L1186.8,277.9L1187.8,276.2L1188.7,274.4L1189.8,272.7L1191.0,271.1L1192.2,269.5L1193.6,268.1L1195.1,266.8L1196.7,265.6L1198.5,264.7L1200.4,264.1L1202.4,263.9L1204.4,264.2L1206.2,264.9L1207.9,266.0L1209.5,267.2L1210.9,268.6L1212.2,270.2L1213.4,271.8L1214.5,273.4L1215.5,275.1L1216.5,276.9L1217.4,278.6L1218.3,280.4L1219.2,282.3L1219.9,284.1L1220.7,285.9L1221.4,287.8L1222.1,289.7L1222.7,291.6L1223.3,293.5L1223.9,295.4L1224.4,297.3L1224.9,299.3L1225.4,301.2L1225.9,303.2L1226.4,305.1L1226.8,307.1L1227.3,309.0L1227.7,311.0L1228.1,312.9L1228.5,314.9L1229.0,316.8L1229.4,318.8L1229.8,320.7L1230.2,322.7L1230.6,324.6L1231.1,326.6L1231.5,328.6L1231.9,330.5L1232.3,332.5L1232.8,334.4L1233.2,336.4L1233.6,338.3L1234.0,340.3L1234.4,342.2L1234.8,344.2L1235.2,346.2L1235.7,348.1L1236.1,350.1L1236.5,352.0L1236.9,354.0L1237.3,355.9L1237.7,357.9L1238.1,359.9L1238.5,361.8L1238.9,363.8L1239.3,365.7L1239.6,367.7L1240.0,369.7L1240.4,371.6L1240.8,373.6L1241.2,375.6L1241.6,377.5L1241.9,379.5L1242.3,381.5L1242.7,383.4L1243.0,385.4L1243.4,387.4L1243.8,389.3L1244.1,391.3L1244.5,393.3L1244.9,395.2L1245.2,397.2L1245.6,399.2L1245.9,401.1L1246.3,403.1L1246.7,405.1L1247.0,407.0L1247.4,409.0L1247.7,411.0L1248.1,412.9L1248.4,414.9L1248.8,416.9L1249.1,418.8L1249.5,420.8L1249.8,422.8L1250.2,424.7L1250.5,426.7L1250.9,428.7L1251.2,430.7L1251.6,432.6L1251.9,434.6L1252.3,436.6L1252.6,438.5L1253.0,440.5L1253.3,442.5L1253.7,444.4L1254.0,446.4L1254.4,448.4L1254.7,450.3L1255.1,452.3L1255.4,454.3L1255.8,456.3L1256.1,458.2L1256.5,460.2L1256.8,462.2L1257.2,464.1L1257.6,466.1L1257.9,468.1L1258.3,470.0L1258.6,472.0L1259.0,474.0L1259.4,475.9L1259.7,477.9L1260.1,479.9L1260.5,481.8L1260.8,483.8L1261.2,485.8L1261.6,487.7L1262.0,489.7L1262.3,491.6L1262.7,493.6L1263.1,495.6L1263.5,497.5L1263.9,499.5L1264.3,501.5L1264.7,503.4L1265.1,505.4L1265.5,507.3L1265.8,509.3L1266.3,511.3L1266.7,513.2L1267.1,515.2L1267.5,517.1L1267.9,519.1L1268.3,521.0L1268.7,523.0L1269.1,525.0L1269.6,526.9L1270.0,528.9L1270.4,530.8L1270.9,532.8L1271.3,534.7L1271.8,536.7L1272.2,538.6L1272.7,540.6L1273.1,542.5L1273.6,544.5L1274.0,546.4L1274.5,548.4L1275.0,550.3L1275.4,552.2L1275.9,554.2L1276.4,556.1L1276.9,558.1L1277.4,560.0L1277.9,561.9L1278.4,563.9L1278.9,565.8L1279.4,567.7L1279.9,569.7L1280.4,571.6L1280.9,573.5L1281.5,575.5L1282.0,577.4L1282.5,579.3L1283.1,581.2L1283.6,583.2L1284.2,585.1L1284.7,587.0L1285.3,588.9L1285.9,590.9L1286.5,592.8L1287.0,594.7L1287.6,596.6L1288.2,598.5L1288.8,600.4L1289.4,602.3L1290.0,604.2L1290.6,606.1L1291.3,608.0L1291.9,609.9L1292.5,611.8L1293.2,613.7L1293.8,615.6L1294.5,617.5L1295.1,619.4L1295.8,621.3L1296.4,623.2L1297.1,625.0L1297.8,626.9L1298.5,628.8L1299.2,630.7L1299.9,632.5L1300.6,634.4L1301.3,636.3L1302.0,638.2L1302.8,640.0L1303.5,641.9L1304.3,643.7L1305.0,645.6L1305.8,647.4L1306.6,649.3L1307.4,651.1L1308.2,652.9L1309.0,654.8L1309.8,656.6L1310.7,658.4L1311.5,660.2L1312.4,662.0L1313.3,663.8L1314.1,665.6L1315.1,667.4L1316.0,669.1L1316.9,670.9L1317.9,672.7L1318.9,674.4L1319.9,676.1L1320.9,677.9L1321.9,679.6L1322.9,681.3L1324.0,683.0L1325.1,684.7L1326.2,686.3L1327.3,688.0L1328.5,689.6L1329.7,691.2L1330.8,692.8L1332.1,694.4L1333.3,696.0L1334.6,697.6L1335.8,699.1L1337.1,700.6L1338.4,702.1L1339.8,703.6L1341.1,705.1L1342.5,706.5L1343.9,708.0L1345.3,709.4L1346.8,710.8L1348.2,712.1L1349.7,713.5L1351.2,714.8L1352.7,716.2L1354.2,717.5L1355.7,718.8L1357.2,720.0L1358.8,721.3L1360.4,722.5L1361.9,723.8L1363.5,725.0L1365.1,726.2L1366.8,727.3L1368.4,728.5L1370.0,729.6L1371.7,730.8L1373.4,731.9L1375.0,733.0L1376.7,734.0L1378.4,735.1L1380.1,736.2L1381.8,737.2L1383.6,738.2L1385.3,739.2L1387.0,740.2L1388.8,741.2L1390.5,742.1L1392.3,743.1L1394.1,744.0L1395.8,744.9L1397.6,745.8L1399.4,746.7L1401.2,747.6L1403.0,748.4L1404.8,749.3L1406.6,750.1L1408.5,750.9L1410.3,751.7L1412.1,752.5L1414.0,753.3L1415.8,754.1L1417.7,754.8L1419.5,755.6L1421.4,756.3L1423.3,757.0L1425.1,757.7L1427.0,758.4L1428.9,759.1L1430.8,759.8L1432.7,760.4L1434.6,761.1L1436.5,761.7L1438.4,762.3L1440.3,762.9L1442.2,763.5L1444.1,764.1L1446.0,764.7L1447.9,765.3L1449.8,765.8L1451.8,766.3L1453.7,766.9L1455.6,767.4L1457.6,767.9L1459.5,768.4L1461.4,768.9L1463.4,769.4L1465.3,769.8L1467.3,770.3L1469.2,770.7L1471.2,771.2L1473.1,771.6L1475.1,772.0L1477.0,772.4L1479.0,772.8L1481.0,773.2L1482.9,773.6L1484.9,774.0L1486.9,774.3L1488.8,774.7L1490.8,775.0L1492.8,775.4L1494.7,775.7L1496.7,776.0L1498.7,776.4L1500.7,776.7L1502.6,777.0L1504.6,777.3L1506.6,777.5L1508.6,777.8L1510.6,778.1L1512.5,778.4L1514.5,778.6L1516.5,778.9L1518.5,779.1L1520.5,779.4L1522.5,779.6L1524.5,779.8L1526.4,780.1L1528.4,780.3L1530.4,780.5L1532.4,780.7L1534.4,780.9L1536.4,781.1L1538.4,781.3L1540.4,781.5L1542.4,781.7L1544.4,781.9L1546.3,782.0L1548.3,782.2L1550.3,782.4L1552.3,782.5L1554.3,782.7L1556.3,782.9L1558.3,783.0L1560.3,783.2L1562.3,783.3L1564.3,783.5L1566.3,783.6L1568.3,783.7L1570.3,783.9L1572.3,784.0L1574.3,784.1L1576.3,784.3L1578.3,784.4L1580.3,784.5L1582.2,784.7L1584.2,784.8L1586.2,784.9L1588.2,785.0L1590.2,785.1L1592.2,785.3L1594.2,785.4L1596.2,785.5L1598.2,785.6L1600.2,785.7L1602.2,785.8L1604.2,786.0L1606.2,786.1L1608.2,786.2L1610.2,786.3L1612.2,786.4L1614.2,786.5L1616.2,786.7L1618.2,786.8L1620.2,786.9L1622.2,787.0L1624.2,787.1L1626.0,787.3" stroke="#0b0b9c" stroke-width="7.5" stroke-dasharray="8 13" stroke-linecap="round"/>
</g>
<rect x="947.5" y="113.5" width="679.0" height="675.5" fill="none" stroke="#1c1c1c" stroke-width="3.5"/>
<line x1="923" y1="789.0" x2="947.5" y2="789.0" stroke="#1c1c1c" stroke-width="4"/>
<text x="919.5" y="802.0" font-size="38.0" text-anchor="end" fill="#2b2b2b" style="font-family:'Liberation Sans',Arial,sans-serif;font-weight:bold" textLength="54.0" lengthAdjust="spacingAndGlyphs" >0.0</text>
<line x1="923" y1="653.9" x2="947.5" y2="653.9" stroke="#1c1c1c" stroke-width="4"/>
<text x="919.5" y="666.9" font-size="38.0" text-anchor="end" fill="#2b2b2b" style="font-family:'Liberation Sans',Arial,sans-serif;font-weight:bold" textLength="54.0" lengthAdjust="spacingAndGlyphs" >0.1</text>
<line x1="923" y1="518.8" x2="947.5" y2="518.8" stroke="#1c1c1c" stroke-width="4"/>
<text x="919.5" y="531.8" font-size="38.0" text-anchor="end" fill="#2b2b2b" style="font-family:'Liberation Sans',Arial,sans-serif;font-weight:bold" textLength="54.0" lengthAdjust="spacingAndGlyphs" >0.2</text>
<line x1="923" y1="383.7" x2="947.5" y2="383.7" stroke="#1c1c1c" stroke-width="4"/>
<text x="919.5" y="396.7" font-size="38.0" text-anchor="end" fill="#2b2b2b" style="font-family:'Liberation Sans',Arial,sans-serif;font-weight:bold" textLength="54.0" lengthAdjust="spacingAndGlyphs" >0.3</text>
<line x1="923" y1="248.6" x2="947.5" y2="248.6" stroke="#1c1c1c" stroke-width="4"/>
<text x="919.5" y="261.6" font-size="38.0" text-anchor="end" fill="#2b2b2b" style="font-family:'Liberation Sans',Arial,sans-serif;font-weight:bold" textLength="54.0" lengthAdjust="spacingAndGlyphs" >0.4</text>
<line x1="923" y1="113.5" x2="947.5" y2="113.5" stroke="#1c1c1c" stroke-width="4"/>
<text x="919.5" y="126.5" font-size="38.0" text-anchor="end" fill="#2b2b2b" style="font-family:'Liberation Sans',Arial,sans-serif;font-weight:bold" textLength="54.0" lengthAdjust="spacingAndGlyphs" >0.5</text>
<line x1="934" y1="721.5" x2="947.5" y2="721.5" stroke="#1c1c1c" stroke-width="4"/>
<line x1="934" y1="586.3" x2="947.5" y2="586.3" stroke="#1c1c1c" stroke-width="4"/>
<line x1="934" y1="451.2" x2="947.5" y2="451.2" stroke="#1c1c1c" stroke-width="4"/>
<line x1="934" y1="316.2" x2="947.5" y2="316.2" stroke="#1c1c1c" stroke-width="4"/>
<line x1="934" y1="181.0" x2="947.5" y2="181.0" stroke="#1c1c1c" stroke-width="4"/>
<line x1="1022.9" y1="789.0" x2="1022.9" y2="812" stroke="#1c1c1c" stroke-width="4"/>
<text x="1022.9" y="858.6" font-size="38.0" text-anchor="middle" fill="#2b2b2b" style="font-family:'Liberation Sans',Arial,sans-serif;font-weight:bold" textLength="63.0" lengthAdjust="spacingAndGlyphs" >400</text>
<line x1="1173.8" y1="789.0" x2="1173.8" y2="812" stroke="#1c1c1c" stroke-width="4"/>
<text x="1173.8" y="858.6" font-size="38.0" text-anchor="middle" fill="#2b2b2b" style="font-family:'Liberation Sans',Arial,sans-serif;font-weight:bold" textLength="63.0" lengthAdjust="spacingAndGlyphs" >500</text>
<line x1="1324.7" y1="789.0" x2="1324.7" y2="812" stroke="#1c1c1c" stroke-width="4"/>
<text x="1324.7" y="858.6" font-size="38.0" text-anchor="middle" fill="#2b2b2b" style="font-family:'Liberation Sans',Arial,sans-serif;font-weight:bold" textLength="63.0" lengthAdjust="spacingAndGlyphs" >600</text>
<line x1="1475.6" y1="789.0" x2="1475.6" y2="812" stroke="#1c1c1c" stroke-width="4"/>
<text x="1475.6" y="858.6" font-size="38.0" text-anchor="middle" fill="#2b2b2b" style="font-family:'Liberation Sans',Arial,sans-serif;font-weight:bold" textLength="63.0" lengthAdjust="spacingAndGlyphs" >700</text>
<line x1="1626.5" y1="789.0" x2="1626.5" y2="812" stroke="#1c1c1c" stroke-width="4"/>
<text x="1626.5" y="858.6" font-size="38.0" text-anchor="middle" fill="#2b2b2b" style="font-family:'Liberation Sans',Arial,sans-serif;font-weight:bold" textLength="63.0" lengthAdjust="spacingAndGlyphs" >800</text>
<line x1="1098.4" y1="789.0" x2="1098.4" y2="804" stroke="#1c1c1c" stroke-width="4"/>
<line x1="1249.3" y1="789.0" x2="1249.3" y2="804" stroke="#1c1c1c" stroke-width="4"/>
<line x1="1400.2" y1="789.0" x2="1400.2" y2="804" stroke="#1c1c1c" stroke-width="4"/>
<line x1="1551.1" y1="789.0" x2="1551.1" y2="804" stroke="#1c1c1c" stroke-width="4"/>
<line x1="947.5" y1="789.0" x2="947.5" y2="812" stroke="#1c1c1c" stroke-width="4"/>
<text x="1289.5" y="914.4" font-size="39.0" text-anchor="middle" fill="#2b2b2b" style="font-family:'Liberation Sans',Arial,sans-serif;font-weight:bold" textLength="303.0" lengthAdjust="spacingAndGlyphs" >Wavelength (nm)</text>
<text transform="translate(839,450.4) rotate(-90)" x="0" y="0" font-size="39" text-anchor="middle" fill="#2b2b2b" style="font-family:'Liberation Sans',Arial,sans-serif;font-weight:bold" textLength="206" lengthAdjust="spacingAndGlyphs">Absorbance</text>
<line x1="953.4" y1="941.8" x2="1014.2" y2="941.8" stroke="#0b0b9c" stroke-width="7" stroke-dasharray="15 9"/>
<text x="1042.0" y="956.5" font-size="38.0" text-anchor="start" fill="#2b2b2b" style="font-family:'Liberation Sans',Arial,sans-serif;font-weight:bold" textLength="97.0" lengthAdjust="spacingAndGlyphs" >AuNp</text>
<line x1="1172.4" y1="946.7" x2="1233.2" y2="946.7" stroke="#c42626" stroke-width="5"/>
<text x="1261.0" y="960.0" font-size="38.0" text-anchor="start" fill="#2b2b2b" style="font-family:'Liberation Sans',Arial,sans-serif;font-weight:bold" textLength="58.0" lengthAdjust="spacingAndGlyphs" >1/5</text>
<line x1="1339.0" y1="948.4" x2="1396.0" y2="948.4" stroke="#2ea42e" stroke-width="5"/>
<text x="1428.3" y="963.6" font-size="38.0" text-anchor="start" fill="#2b2b2b" style="font-family:'Liberation Sans',Arial,sans-serif;font-weight:bold" textLength="56.0" lengthAdjust="spacingAndGlyphs" >1/8</text>
<line x1="953.4" y1="990.5" x2="1014.2" y2="990.5" stroke="#9438b0" stroke-width="5"/>
<text x="1042.8" y="1005.7" font-size="38.0" text-anchor="start" fill="#2b2b2b" style="font-family:'Liberation Sans',Arial,sans-serif;font-weight:bold" textLength="80.0" lengthAdjust="spacingAndGlyphs" >1/10</text>
<line x1="1172.4" y1="993.1" x2="1228.8" y2="993.1" stroke="#e39640" stroke-width="5"/>
<text x="1261.0" y="1008.3" font-size="38.0" text-anchor="start" fill="#2b2b2b" style="font-family:'Liberation Sans',Arial,sans-serif;font-weight:bold" textLength="78.0" lengthAdjust="spacingAndGlyphs" >1/15</text>
<line x1="1343.4" y1="995.8" x2="1402.4" y2="995.8" stroke="#0c0c0c" stroke-width="5"/>
<text x="1432.8" y="1009.0" font-size="38.0" text-anchor="start" fill="#2b2b2b" style="font-family:'Liberation Sans',Arial,sans-serif;font-weight:bold" textLength="79.0" lengthAdjust="spacingAndGlyphs" >1/20</text>
<defs><filter id="pblur" x="-5%" y="-5%" width="110%" height="110%"><feGaussianBlur stdDeviation="1.5"/></filter></defs>
<defs><clipPath id="cc"><rect x="94.0" y="1082.3" width="684.6" height="686.4"/></clipPath></defs>
<rect x="94.0" y="1082.3" width="684.6" height="686.4" fill="#e6e6e6"/>
<g clip-path="url(#cc)"><g filter="url(#pblur)">
<circle cx="298.6" cy="1293.0" r="13.0" fill="#474747"/>
<circle cx="296.0" cy="1309.0" r="10.0" fill="#333333"/>
<circle cx="335.1" cy="1288.2" r="13.0" fill="#474747"/>
<circle cx="363.3" cy="1287.1" r="13.0" fill="#333333"/>
<circle cx="394.5" cy="1290.2" r="13.0" fill="#474747"/>
<circle cx="274.6" cy="1319.4" r="13.0" fill="#333333"/>
<circle cx="321.5" cy="1315.3" r="13.0" fill="#474747"/>
<circle cx="350.7" cy="1312.1" r="10.5" fill="#1c1c1c"/>
<circle cx="378.9" cy="1309.0" r="13.0" fill="#474747"/>
<circle cx="402.9" cy="1326.8" r="13.5" fill="#474747"/>
<circle cx="300.7" cy="1327.8" r="11.0" fill="#333333"/>
<circle cx="366.4" cy="1332.0" r="13.0" fill="#333333"/>
<circle cx="338.2" cy="1341.4" r="13.0" fill="#595959"/>
<circle cx="432.1" cy="1338.2" r="13.0" fill="#474747"/>
<circle cx="281.9" cy="1348.7" r="13.0" fill="#474747"/>
<circle cx="309.0" cy="1351.8" r="11.0" fill="#474747"/>
<circle cx="377.9" cy="1356.0" r="13.0" fill="#333333"/>
<circle cx="415.4" cy="1358.0" r="13.0" fill="#333333"/>
<circle cx="441.0" cy="1368.0" r="13.0" fill="#333333"/>
<circle cx="296.5" cy="1374.7" r="13.0" fill="#333333"/>
<circle cx="321.5" cy="1380.0" r="13.0" fill="#333333"/>
<circle cx="357.0" cy="1376.8" r="13.0" fill="#333333"/>
<circle cx="392.5" cy="1381.0" r="13.0" fill="#474747"/>
<circle cx="415.4" cy="1372.0" r="10.0" fill="#474747"/>
<circle cx="302.8" cy="1398.7" r="13.0" fill="#333333"/>
<circle cx="328.8" cy="1408.1" r="13.0" fill="#595959"/>
<circle cx="357.0" cy="1416.4" r="13.0" fill="#333333"/>
<circle cx="375.8" cy="1401.8" r="13.0" fill="#333333"/>
<circle cx="403.9" cy="1404.0" r="13.0" fill="#474747"/>
<circle cx="335.1" cy="1450.9" r="13.0" fill="#333333"/>
<circle cx="362.2" cy="1446.7" r="13.0" fill="#474747"/>
<circle cx="388.3" cy="1467.6" r="13.0" fill="#333333"/>
<circle cx="319.5" cy="1473.8" r="13.0" fill="#333333"/>
<circle cx="349.7" cy="1475.9" r="13.0" fill="#595959"/>
<circle cx="297.5" cy="1496.0" r="13.0" fill="#474747"/>
<circle cx="327.8" cy="1503.0" r="13.0" fill="#1c1c1c"/>
<circle cx="358.0" cy="1507.0" r="13.0" fill="#1c1c1c"/>
<circle cx="406.0" cy="1488.4" r="13.0" fill="#474747"/>
<circle cx="437.0" cy="1487.0" r="13.0" fill="#333333"/>
<circle cx="313.2" cy="1529.2" r="13.0" fill="#333333"/>
<circle cx="341.4" cy="1528.2" r="10.5" fill="#595959"/>
<circle cx="362.2" cy="1545.9" r="13.0" fill="#1c1c1c"/>
<circle cx="321.5" cy="1580.3" r="13.0" fill="#474747"/>
<circle cx="349.7" cy="1575.1" r="13.0" fill="#474747"/>
<circle cx="369.5" cy="1594.9" r="10.5" fill="#333333"/>
<circle cx="324.7" cy="1610.6" r="13.0" fill="#333333"/>
<circle cx="348.7" cy="1606.4" r="13.0" fill="#595959"/>
<circle cx="368.5" cy="1618.9" r="13.0" fill="#333333"/>
<circle cx="306.9" cy="1633.5" r="13.0" fill="#474747"/>
<circle cx="338.2" cy="1633.5" r="13.0" fill="#595959"/>
<circle cx="362.2" cy="1646.0" r="13.0" fill="#333333"/>
<circle cx="329.9" cy="1660.6" r="13.0" fill="#474747"/>
<circle cx="353.9" cy="1673.1" r="13.0" fill="#474747"/>
<circle cx="372.6" cy="1694.0" r="13.0" fill="#474747"/>
<circle cx="416.4" cy="1642.9" r="13.0" fill="#333333"/>
<circle cx="434.0" cy="1666.9" r="13.0" fill="#474747"/>
<circle cx="434.0" cy="1696.0" r="13.0" fill="#474747"/>
<circle cx="335.1" cy="1716.9" r="13.0" fill="#333333"/>
<circle cx="366.4" cy="1723.2" r="13.0" fill="#595959"/>
<circle cx="416.4" cy="1722.2" r="13.0" fill="#1c1c1c"/>
<circle cx="302.8" cy="1738.8" r="13.0" fill="#474747"/>
<circle cx="333.0" cy="1747.2" r="13.0" fill="#474747"/>
<circle cx="391.4" cy="1743.0" r="13.0" fill="#333333"/>
<circle cx="417.5" cy="1753.4" r="13.0" fill="#333333"/>
<circle cx="264.2" cy="1749.3" r="13.0" fill="#474747"/>
<circle cx="396.6" cy="1768.0" r="13.0" fill="#333333"/>
<circle cx="261.0" cy="1770.0" r="13.0" fill="#333333"/>
<circle cx="206.8" cy="1770.0" r="9.0" fill="#333333"/>
<circle cx="148.4" cy="1696.0" r="13.0" fill="#474747"/>
<circle cx="121.3" cy="1708.6" r="14.0" fill="#474747"/>
<circle cx="149.4" cy="1723.2" r="13.0" fill="#333333"/>
<circle cx="125.5" cy="1742.0" r="14.0" fill="#474747"/>
<circle cx="177.6" cy="1736.8" r="13.0" fill="#333333"/>
<circle cx="155.7" cy="1752.4" r="13.0" fill="#333333"/>
<circle cx="181.8" cy="1762.0" r="13.0" fill="#333333"/>
<circle cx="555.5" cy="1324.4" r="11.0" fill="#595959"/>
<circle cx="531.9" cy="1341.5" r="11.5" fill="#474747"/>
<circle cx="557.7" cy="1346.9" r="13.0" fill="#1c1c1c"/>
<circle cx="524.4" cy="1365.1" r="13.0" fill="#474747"/>
<circle cx="496.5" cy="1375.9" r="13.0" fill="#333333"/>
<circle cx="525.5" cy="1390.9" r="13.0" fill="#1c1c1c"/>
<circle cx="553.4" cy="1389.8" r="11.0" fill="#333333"/>
<circle cx="614.5" cy="1385.5" r="13.0" fill="#474747"/>
<circle cx="560.9" cy="1418.8" r="13.0" fill="#595959"/>
<circle cx="612.4" cy="1411.3" r="13.0" fill="#333333"/>
<circle cx="636.0" cy="1426.3" r="13.0" fill="#333333"/>
<circle cx="609.1" cy="1437.0" r="13.0" fill="#595959"/>
<circle cx="582.3" cy="1442.4" r="11.0" fill="#1c1c1c"/>
<circle cx="510.5" cy="1432.7" r="13.0" fill="#333333"/>
<circle cx="522.3" cy="1456.3" r="11.0" fill="#333333"/>
<circle cx="726.1" cy="1354.4" r="13.0" fill="#333333"/>
<circle cx="740.0" cy="1384.4" r="13.0" fill="#474747"/>
<circle cx="720.7" cy="1392.0" r="13.0" fill="#474747"/>
<circle cx="768.0" cy="1381.2" r="13.0" fill="#1c1c1c"/>
<circle cx="774.0" cy="1410.2" r="13.0" fill="#1c1c1c"/>
<circle cx="754.0" cy="1425.2" r="13.0" fill="#1c1c1c"/>
<circle cx="726.1" cy="1449.9" r="13.0" fill="#474747"/>
<circle cx="755.0" cy="1455.2" r="13.0" fill="#595959"/>
<circle cx="774.0" cy="1472.4" r="13.0" fill="#474747"/>
<circle cx="711.0" cy="1477.8" r="11.0" fill="#333333"/>
<circle cx="686.4" cy="1493.9" r="11.0" fill="#1c1c1c"/>
<circle cx="708.9" cy="1505.7" r="13.0" fill="#333333"/>
<circle cx="733.6" cy="1499.2" r="13.0" fill="#333333"/>
<circle cx="629.5" cy="1499.0" r="13.0" fill="#474747"/>
<circle cx="618.8" cy="1522.0" r="13.0" fill="#595959"/>
<circle cx="470.8" cy="1491.7" r="13.0" fill="#595959"/>
<circle cx="487.9" cy="1511.0" r="13.0" fill="#595959"/>
<circle cx="516.9" cy="1506.7" r="13.0" fill="#333333"/>
<circle cx="539.4" cy="1526.0" r="13.0" fill="#474747"/>
<circle cx="779.0" cy="1508.9" r="13.0" fill="#333333"/>
<circle cx="480.4" cy="1538.6" r="13.0" fill="#333333"/>
<circle cx="510.5" cy="1538.6" r="13.0" fill="#333333"/>
<circle cx="462.2" cy="1557.9" r="13.0" fill="#474747"/>
<circle cx="511.5" cy="1563.3" r="13.0" fill="#333333"/>
<circle cx="486.9" cy="1574.0" r="13.0" fill="#333333"/>
<circle cx="573.7" cy="1544.0" r="13.0" fill="#333333"/>
<circle cx="602.7" cy="1550.4" r="10.5" fill="#1c1c1c"/>
<circle cx="603.8" cy="1578.3" r="13.0" fill="#333333"/>
<circle cx="776.0" cy="1603.0" r="13.0" fill="#1c1c1c"/>
<circle cx="777.0" cy="1635.2" r="13.0" fill="#1c1c1c"/>
<circle cx="445.0" cy="1719.9" r="13.0" fill="#333333"/>
<circle cx="530.8" cy="1709.2" r="13.0" fill="#333333"/>
<circle cx="508.3" cy="1731.7" r="13.0" fill="#595959"/>
<circle cx="538.3" cy="1736.0" r="13.0" fill="#474747"/>
<circle cx="522.3" cy="1757.5" r="13.0" fill="#333333"/>
<circle cx="551.2" cy="1759.6" r="13.0" fill="#474747"/>
<circle cx="583.4" cy="1754.2" r="13.0" fill="#474747"/>
<circle cx="617.7" cy="1708.1" r="13.0" fill="#595959"/>
<circle cx="647.8" cy="1712.4" r="13.0" fill="#1c1c1c"/>
<circle cx="625.2" cy="1738.1" r="13.0" fill="#333333"/>
<circle cx="654.2" cy="1751.0" r="13.0" fill="#595959"/>
<circle cx="623.1" cy="1765.0" r="13.0" fill="#333333"/>
<circle cx="673.5" cy="1727.4" r="13.0" fill="#333333"/>
<circle cx="700.3" cy="1726.3" r="13.0" fill="#333333"/>
<circle cx="727.1" cy="1714.5" r="13.0" fill="#474747"/>
<circle cx="749.7" cy="1730.6" r="13.0" fill="#595959"/>
<circle cx="726.1" cy="1742.4" r="13.0" fill="#333333"/>
<circle cx="715.4" cy="1762.0" r="13.0" fill="#474747"/>
<circle cx="744.3" cy="1760.0" r="13.0" fill="#333333"/>
</g></g>
<rect x="91.5" y="1079.8" width="689.6" height="691.4" fill="none" stroke="#0a0a0a" stroke-width="5.0"/>
<line x1="106" y1="1095" x2="198" y2="1095" stroke="#111" stroke-width="6"/>
<text x="121.0" y="1119.0" font-size="17.0" text-anchor="start" fill="#555" style="font-family:'Liberation Sans',Arial,sans-serif" textLength="60.0" lengthAdjust="spacingAndGlyphs" >50 nm</text>
<defs><clipPath id="dd"><rect x="932.7" y="1084.0" width="683.8" height="684.5"/></clipPath></defs>
<rect x="932.7" y="1084.0" width="683.8" height="684.5" fill="#e8e8e8"/>
<g clip-path="url(#dd)"><g filter="url(#pblur)">
<circle cx="1486.1" cy="1259.3" r="13.0" fill="#4a4a4a"/>
<circle cx="1614.8" cy="1285.0" r="14.2" fill="#505050"/>
<circle cx="939.2" cy="1336.6" r="14.0" fill="#3a3a3a"/>
<circle cx="939.7" cy="1383.4" r="14.5" fill="#444"/>
<circle cx="1612.5" cy="1430.2" r="13.9" fill="#565656"/>
<circle cx="1528.1" cy="1479.0" r="14.3" fill="#3a3a3a"/>
<circle cx="1557.8" cy="1481.2" r="14.4" fill="#444"/>
<circle cx="1614.9" cy="1478.8" r="13.9" fill="#4a4a4a"/>
<circle cx="1513.8" cy="1503.9" r="14.0" fill="#444"/>
<circle cx="1542.0" cy="1503.3" r="13.4" fill="#565656"/>
<circle cx="1499.9" cy="1527.9" r="13.5" fill="#505050"/>
<circle cx="1527.1" cy="1530.3" r="14.1" fill="#3a3a3a"/>
<circle cx="1484.8" cy="1555.0" r="13.0" fill="#4a4a4a"/>
<circle cx="1472.5" cy="1576.2" r="13.2" fill="#4a4a4a"/>
<circle cx="1418.0" cy="1625.8" r="14.3" fill="#444"/>
<circle cx="1614.2" cy="1627.4" r="13.6" fill="#444"/>
<circle cx="1376.6" cy="1651.8" r="13.1" fill="#444"/>
<circle cx="969.7" cy="1675.1" r="14.5" fill="#565656"/>
<circle cx="1362.0" cy="1675.2" r="14.4" fill="#444"/>
<circle cx="1390.4" cy="1675.0" r="14.0" fill="#444"/>
<circle cx="1569.0" cy="1700.4" r="14.1" fill="#505050"/>
<circle cx="1195.0" cy="1723.4" r="14.4" fill="#505050"/>
<circle cx="1220.5" cy="1724.4" r="13.5" fill="#505050"/>
<circle cx="1248.2" cy="1723.4" r="14.5" fill="#565656"/>
<circle cx="1415.9" cy="1723.1" r="13.1" fill="#4a4a4a"/>
<circle cx="1610.5" cy="1721.4" r="14.3" fill="#505050"/>
<circle cx="1066.8" cy="1744.8" r="14.4" fill="#4a4a4a"/>
<circle cx="1205.4" cy="1748.7" r="14.3" fill="#505050"/>
<circle cx="1232.5" cy="1747.5" r="13.4" fill="#505050"/>
<circle cx="1260.3" cy="1746.4" r="13.2" fill="#444"/>
<circle cx="1457.9" cy="1744.5" r="13.3" fill="#3a3a3a"/>
<circle cx="1052.5" cy="1770.0" r="13.4" fill="#4a4a4a"/>
<circle cx="1109.7" cy="1770.8" r="13.3" fill="#505050"/>
<circle cx="1134.3" cy="1771.7" r="14.4" fill="#3a3a3a"/>
<circle cx="1190.4" cy="1771.7" r="14.0" fill="#565656"/>
<circle cx="1218.9" cy="1770.3" r="14.2" fill="#565656"/>
<circle cx="1250.9" cy="1772.1" r="14.0" fill="#505050"/>
<circle cx="1391.1" cy="1772.6" r="14.1" fill="#505050"/>
<circle cx="1470.3" cy="1773.2" r="13.1" fill="#4a4a4a"/>
<circle cx="1500.1" cy="1772.7" r="14.0" fill="#565656"/>
<circle cx="1611.6" cy="1773.3" r="13.0" fill="#505050"/>
<circle cx="1255.1" cy="1091.7" r="13.7" fill="#444"/>
<circle cx="1318.0" cy="1092.5" r="14.1" fill="#505050"/>
<circle cx="1507.1" cy="1091.0" r="13.6" fill="#3a3a3a"/>
<circle cx="995.3" cy="1107.1" r="14.3" fill="#444"/>
<circle cx="1175.3" cy="1123.2" r="14.3" fill="#444"/>
<circle cx="1044.9" cy="1161.5" r="13.8" fill="#3a3a3a"/>
<circle cx="1084.0" cy="1169.4" r="14.2" fill="#444"/>
<circle cx="1152.7" cy="1178.6" r="14.0" fill="#505050"/>
<circle cx="946.0" cy="1194.1" r="13.7" fill="#3a3a3a"/>
<circle cx="1556.7" cy="1193.7" r="14.0" fill="#4a4a4a"/>
<circle cx="1084.4" cy="1200.4" r="13.6" fill="#4a4a4a"/>
<circle cx="1521.1" cy="1225.2" r="13.1" fill="#565656"/>
<circle cx="972.0" cy="1241.0" r="14.0" fill="#505050"/>
<circle cx="1620.2" cy="1254.7" r="13.1" fill="#4a4a4a"/>
<circle cx="972.4" cy="1287.7" r="14.2" fill="#505050"/>
<circle cx="945.0" cy="1302.3" r="14.2" fill="#3a3a3a"/>
<circle cx="1615.0" cy="1309.4" r="13.9" fill="#3a3a3a"/>
<circle cx="1588.0" cy="1325.3" r="13.4" fill="#4a4a4a"/>
<circle cx="1619.6" cy="1334.2" r="13.9" fill="#565656"/>
<circle cx="1620.8" cy="1379.7" r="13.3" fill="#3a3a3a"/>
<circle cx="1616.6" cy="1404.2" r="14.3" fill="#3a3a3a"/>
<circle cx="1571.5" cy="1420.0" r="13.5" fill="#565656"/>
<circle cx="944.7" cy="1427.9" r="13.9" fill="#3a3a3a"/>
<circle cx="1557.4" cy="1442.8" r="13.5" fill="#4a4a4a"/>
<circle cx="1606.8" cy="1450.9" r="14.3" fill="#4a4a4a"/>
<circle cx="1000.1" cy="1457.7" r="13.4" fill="#4a4a4a"/>
<circle cx="1529.6" cy="1457.7" r="13.1" fill="#4a4a4a"/>
<circle cx="1575.6" cy="1458.1" r="14.4" fill="#4a4a4a"/>
<circle cx="999.7" cy="1505.5" r="13.5" fill="#3a3a3a"/>
<circle cx="1592.5" cy="1506.0" r="14.2" fill="#505050"/>
<circle cx="1017.3" cy="1519.9" r="13.9" fill="#565656"/>
<circle cx="1552.7" cy="1528.3" r="13.1" fill="#505050"/>
<circle cx="972.5" cy="1537.2" r="13.7" fill="#505050"/>
<circle cx="939.9" cy="1543.7" r="14.2" fill="#505050"/>
<circle cx="1598.6" cy="1544.8" r="13.1" fill="#444"/>
<circle cx="989.5" cy="1551.9" r="13.6" fill="#505050"/>
<circle cx="1512.0" cy="1551.0" r="13.8" fill="#444"/>
<circle cx="1621.1" cy="1551.0" r="13.0" fill="#3a3a3a"/>
<circle cx="944.6" cy="1567.6" r="13.7" fill="#3a3a3a"/>
<circle cx="1620.3" cy="1582.9" r="14.3" fill="#505050"/>
<circle cx="1452.9" cy="1590.7" r="13.1" fill="#3a3a3a"/>
<circle cx="1031.5" cy="1605.8" r="13.8" fill="#3a3a3a"/>
<circle cx="1512.4" cy="1614.0" r="13.4" fill="#4a4a4a"/>
<circle cx="940.0" cy="1622.7" r="14.0" fill="#3a3a3a"/>
<circle cx="986.5" cy="1622.7" r="14.2" fill="#565656"/>
<circle cx="966.8" cy="1638.3" r="13.4" fill="#4a4a4a"/>
<circle cx="1048.1" cy="1637.4" r="13.5" fill="#4a4a4a"/>
<circle cx="1405.0" cy="1644.5" r="14.0" fill="#565656"/>
<circle cx="1454.1" cy="1654.1" r="14.4" fill="#505050"/>
<circle cx="1534.3" cy="1653.2" r="13.9" fill="#4a4a4a"/>
<circle cx="1616.0" cy="1652.2" r="14.4" fill="#4a4a4a"/>
<circle cx="1054.1" cy="1660.6" r="13.8" fill="#505050"/>
<circle cx="1571.3" cy="1668.9" r="13.2" fill="#505050"/>
<circle cx="946.1" cy="1675.7" r="13.7" fill="#4a4a4a"/>
<circle cx="1340.5" cy="1675.8" r="14.1" fill="#565656"/>
<circle cx="1620.3" cy="1677.5" r="14.2" fill="#565656"/>
<circle cx="1319.3" cy="1685.2" r="13.6" fill="#505050"/>
<circle cx="1524.8" cy="1684.9" r="14.3" fill="#565656"/>
<circle cx="1376.9" cy="1692.1" r="14.4" fill="#565656"/>
<circle cx="1165.4" cy="1699.2" r="13.8" fill="#4a4a4a"/>
<circle cx="1277.6" cy="1707.2" r="13.5" fill="#3a3a3a"/>
<circle cx="1489.8" cy="1716.5" r="13.0" fill="#3a3a3a"/>
<circle cx="1587.8" cy="1715.1" r="14.0" fill="#444"/>
<circle cx="1169.9" cy="1723.9" r="13.7" fill="#565656"/>
<circle cx="1439.6" cy="1723.7" r="13.5" fill="#565656"/>
<circle cx="1039.5" cy="1731.9" r="13.9" fill="#4a4a4a"/>
<circle cx="1525.9" cy="1731.8" r="14.3" fill="#505050"/>
<circle cx="1183.8" cy="1746.4" r="14.1" fill="#565656"/>
<circle cx="1480.8" cy="1747.0" r="13.0" fill="#3a3a3a"/>
<circle cx="1615.5" cy="1747.0" r="14.3" fill="#444"/>
<circle cx="1589.6" cy="1761.9" r="13.1" fill="#3a3a3a"/>
<circle cx="973.2" cy="1770.3" r="13.0" fill="#4a4a4a"/>
<circle cx="1007.7" cy="1770.6" r="13.5" fill="#565656"/>
<circle cx="1413.9" cy="1769.3" r="13.4" fill="#565656"/>
<circle cx="944.8" cy="1090.5" r="13.5" fill="#474747"/>
<circle cx="979.2" cy="1086.3" r="13.5" fill="#333333"/>
<circle cx="1080.4" cy="1075.0" r="13.5" fill="#333333"/>
<circle cx="1232.6" cy="1090.5" r="13.5" fill="#333333"/>
<circle cx="967.7" cy="1115.5" r="13.5" fill="#474747"/>
<circle cx="938.5" cy="1117.6" r="13.5" fill="#333333"/>
<circle cx="999.0" cy="1130.1" r="13.5" fill="#474747"/>
<circle cx="957.3" cy="1142.7" r="13.5" fill="#474747"/>
<circle cx="1153.4" cy="1132.2" r="15.0" fill="#474747"/>
<circle cx="1199.3" cy="1111.4" r="13.5" fill="#474747"/>
<circle cx="1257.7" cy="1117.6" r="13.5" fill="#474747"/>
<circle cx="1226.4" cy="1128.1" r="13.5" fill="#474747"/>
<circle cx="1196.1" cy="1142.7" r="13.5" fill="#333333"/>
<circle cx="984.4" cy="1159.4" r="13.5" fill="#474747"/>
<circle cx="1023.0" cy="1163.5" r="14.0" fill="#474747"/>
<circle cx="944.8" cy="1172.9" r="13.5" fill="#474747"/>
<circle cx="1132.5" cy="1165.6" r="13.5" fill="#474747"/>
<circle cx="1171.1" cy="1165.6" r="13.5" fill="#474747"/>
<circle cx="1238.9" cy="1155.2" r="13.5" fill="#474747"/>
<circle cx="1266.0" cy="1146.8" r="13.5" fill="#474747"/>
<circle cx="1065.8" cy="1180.2" r="13.5" fill="#474747"/>
<circle cx="1101.2" cy="1186.5" r="13.5" fill="#474747"/>
<circle cx="971.9" cy="1190.6" r="13.5" fill="#474747"/>
<circle cx="1005.3" cy="1191.7" r="13.5" fill="#474747"/>
<circle cx="1037.6" cy="1196.9" r="13.5" fill="#474747"/>
<circle cx="1199.3" cy="1174.0" r="13.5" fill="#474747"/>
<circle cx="1231.6" cy="1182.3" r="13.5" fill="#333333"/>
<circle cx="1263.9" cy="1190.6" r="13.5" fill="#474747"/>
<circle cx="1132.5" cy="1205.2" r="13.5" fill="#333333"/>
<circle cx="1170.0" cy="1196.9" r="13.5" fill="#474747"/>
<circle cx="1205.5" cy="1207.3" r="13.5" fill="#333333"/>
<circle cx="1238.9" cy="1217.8" r="13.5" fill="#474747"/>
<circle cx="958.3" cy="1219.8" r="13.5" fill="#333333"/>
<circle cx="992.8" cy="1224.0" r="13.5" fill="#474747"/>
<circle cx="1026.1" cy="1224.0" r="13.5" fill="#1c1c1c"/>
<circle cx="1067.8" cy="1217.8" r="15.0" fill="#595959"/>
<circle cx="1105.4" cy="1221.9" r="13.5" fill="#474747"/>
<circle cx="1155.5" cy="1232.4" r="13.5" fill="#474747"/>
<circle cx="944.8" cy="1249.0" r="13.5" fill="#333333"/>
<circle cx="1007.4" cy="1251.1" r="13.5" fill="#333333"/>
<circle cx="1049.1" cy="1247.0" r="13.5" fill="#474747"/>
<circle cx="1088.7" cy="1242.8" r="13.5" fill="#474747"/>
<circle cx="1124.2" cy="1242.8" r="13.5" fill="#474747"/>
<circle cx="978.1" cy="1265.7" r="13.5" fill="#474747"/>
<circle cx="951.0" cy="1280.3" r="13.5" fill="#474747"/>
<circle cx="1259.8" cy="1242.8" r="13.5" fill="#333333"/>
<circle cx="1234.7" cy="1251.1" r="13.5" fill="#333333"/>
<circle cx="1003.2" cy="1286.6" r="13.5" fill="#474747"/>
<circle cx="976.1" cy="1313.7" r="13.5" fill="#474747"/>
<circle cx="967.7" cy="1349.2" r="13.5" fill="#474747"/>
<circle cx="994.8" cy="1368.0" r="13.5" fill="#474747"/>
<circle cx="965.6" cy="1390.9" r="13.5" fill="#333333"/>
<circle cx="996.9" cy="1405.5" r="13.5" fill="#474747"/>
<circle cx="938.5" cy="1407.6" r="13.5" fill="#333333"/>
<circle cx="976.1" cy="1424.3" r="13.5" fill="#474747"/>
<circle cx="1293.2" cy="1097.0" r="13.5" fill="#474747"/>
<circle cx="1346.0" cy="1092.8" r="13.5" fill="#474747"/>
<circle cx="1379.7" cy="1092.8" r="13.5" fill="#333333"/>
<circle cx="1415.6" cy="1099.1" r="13.5" fill="#474747"/>
<circle cx="1449.3" cy="1097.0" r="13.5" fill="#474747"/>
<circle cx="1483.1" cy="1092.8" r="13.5" fill="#474747"/>
<circle cx="1327.0" cy="1111.8" r="13.5" fill="#474747"/>
<circle cx="1358.6" cy="1118.1" r="13.5" fill="#474747"/>
<circle cx="1394.5" cy="1122.3" r="13.5" fill="#474747"/>
<circle cx="1438.8" cy="1120.2" r="13.5" fill="#333333"/>
<circle cx="1472.5" cy="1117.0" r="13.5" fill="#474747"/>
<circle cx="1506.3" cy="1113.9" r="13.5" fill="#474747"/>
<circle cx="1295.3" cy="1126.5" r="13.5" fill="#333333"/>
<circle cx="1375.5" cy="1143.4" r="13.5" fill="#333333"/>
<circle cx="1417.7" cy="1141.3" r="13.5" fill="#474747"/>
<circle cx="1457.8" cy="1145.5" r="13.5" fill="#474747"/>
<circle cx="1489.4" cy="1143.4" r="13.5" fill="#333333"/>
<circle cx="1521.0" cy="1145.5" r="13.5" fill="#474747"/>
<circle cx="1276.3" cy="1147.6" r="13.5" fill="#333333"/>
<circle cx="1322.7" cy="1147.6" r="13.5" fill="#474747"/>
<circle cx="1348.1" cy="1149.7" r="13.5" fill="#474747"/>
<circle cx="1396.6" cy="1170.8" r="13.5" fill="#474747"/>
<circle cx="1436.7" cy="1168.7" r="15.0" fill="#474747"/>
<circle cx="1472.5" cy="1175.0" r="13.5" fill="#1c1c1c"/>
<circle cx="1504.2" cy="1177.2" r="13.5" fill="#474747"/>
<circle cx="1537.9" cy="1179.3" r="14.0" fill="#595959"/>
<circle cx="1297.4" cy="1166.6" r="13.5" fill="#333333"/>
<circle cx="1322.7" cy="1181.4" r="13.5" fill="#1c1c1c"/>
<circle cx="1354.4" cy="1179.3" r="13.5" fill="#333333"/>
<circle cx="1413.5" cy="1198.3" r="13.5" fill="#474747"/>
<circle cx="1449.3" cy="1204.6" r="13.5" fill="#474747"/>
<circle cx="1483.1" cy="1204.6" r="13.5" fill="#474747"/>
<circle cx="1514.7" cy="1204.6" r="13.5" fill="#333333"/>
<circle cx="1573.8" cy="1206.7" r="15.0" fill="#474747"/>
<circle cx="1542.2" cy="1217.2" r="13.5" fill="#474747"/>
<circle cx="1379.7" cy="1196.1" r="13.5" fill="#333333"/>
<circle cx="1320.6" cy="1217.2" r="13.5" fill="#1c1c1c"/>
<circle cx="1430.3" cy="1229.9" r="13.5" fill="#474747"/>
<circle cx="1462.0" cy="1233.1" r="13.5" fill="#1c1c1c"/>
<circle cx="1497.8" cy="1238.3" r="14.0" fill="#595959"/>
<circle cx="1533.7" cy="1251.0" r="15.0" fill="#474747"/>
<circle cx="1569.6" cy="1244.7" r="13.5" fill="#474747"/>
<circle cx="1601.2" cy="1234.1" r="13.5" fill="#474747"/>
<circle cx="1402.9" cy="1255.2" r="13.5" fill="#474747"/>
<circle cx="1445.1" cy="1267.9" r="15.0" fill="#474747"/>
<circle cx="1506.3" cy="1274.2" r="13.5" fill="#474747"/>
<circle cx="1561.1" cy="1272.1" r="13.5" fill="#474747"/>
<circle cx="1599.1" cy="1263.7" r="13.5" fill="#333333"/>
<circle cx="1535.8" cy="1291.1" r="13.5" fill="#474747"/>
<circle cx="1586.5" cy="1297.4" r="13.5" fill="#474747"/>
<circle cx="1559.0" cy="1310.1" r="13.5" fill="#333333"/>
<circle cx="1573.8" cy="1343.8" r="13.5" fill="#474747"/>
<circle cx="1575.9" cy="1367.0" r="13.5" fill="#1c1c1c"/>
<circle cx="1603.3" cy="1362.8" r="13.5" fill="#474747"/>
<circle cx="1590.7" cy="1400.8" r="13.5" fill="#474747"/>
<circle cx="1487.3" cy="1356.5" r="13.5" fill="#1c1c1c"/>
<circle cx="1453.5" cy="1407.1" r="13.5" fill="#474747"/>
<circle cx="1428.2" cy="1386.0" r="13.5" fill="#474747"/>
<circle cx="1367.0" cy="1308.0" r="15.0" fill="#1c1c1c"/>
<circle cx="1519.0" cy="1346.0" r="13.5" fill="#474747"/>
<circle cx="976.1" cy="1434.6" r="13.5" fill="#474747"/>
<circle cx="1011.5" cy="1438.8" r="13.5" fill="#474747"/>
<circle cx="942.7" cy="1457.5" r="13.5" fill="#595959"/>
<circle cx="978.1" cy="1465.9" r="13.5" fill="#474747"/>
<circle cx="1009.4" cy="1480.5" r="13.5" fill="#474747"/>
<circle cx="948.9" cy="1492.0" r="13.5" fill="#474747"/>
<circle cx="981.3" cy="1494.0" r="13.5" fill="#333333"/>
<circle cx="953.1" cy="1526.4" r="13.5" fill="#474747"/>
<circle cx="994.8" cy="1526.4" r="13.5" fill="#474747"/>
<circle cx="963.5" cy="1557.7" r="13.5" fill="#474747"/>
<circle cx="1007.4" cy="1566.0" r="13.5" fill="#474747"/>
<circle cx="938.5" cy="1591.0" r="13.5" fill="#474747"/>
<circle cx="978.1" cy="1586.9" r="13.5" fill="#474747"/>
<circle cx="1036.6" cy="1584.8" r="13.5" fill="#474747"/>
<circle cx="1072.0" cy="1584.8" r="13.5" fill="#474747"/>
<circle cx="964.6" cy="1617.1" r="13.5" fill="#474747"/>
<circle cx="1005.3" cy="1607.7" r="13.5" fill="#474747"/>
<circle cx="1059.5" cy="1611.9" r="13.5" fill="#474747"/>
<circle cx="1028.2" cy="1627.5" r="13.5" fill="#474747"/>
<circle cx="940.6" cy="1651.5" r="13.5" fill="#595959"/>
<circle cx="998.0" cy="1647.4" r="13.5" fill="#474747"/>
<circle cx="1030.3" cy="1664.0" r="13.5" fill="#474747"/>
<circle cx="1074.1" cy="1651.5" r="15.0" fill="#474747"/>
<circle cx="948.9" cy="1697.4" r="13.5" fill="#474747"/>
<circle cx="995.9" cy="1684.9" r="13.5" fill="#474747"/>
<circle cx="1053.2" cy="1684.9" r="13.5" fill="#474747"/>
<circle cx="1088.7" cy="1689.1" r="13.5" fill="#333333"/>
<circle cx="1022.0" cy="1699.5" r="13.5" fill="#1c1c1c"/>
<circle cx="971.9" cy="1707.9" r="13.5" fill="#595959"/>
<circle cx="1055.3" cy="1716.2" r="13.5" fill="#333333"/>
<circle cx="1013.6" cy="1718.3" r="13.5" fill="#333333"/>
<circle cx="942.7" cy="1730.8" r="13.5" fill="#333333"/>
<circle cx="974.0" cy="1732.9" r="13.5" fill="#474747"/>
<circle cx="1090.8" cy="1732.9" r="13.5" fill="#333333"/>
<circle cx="1115.8" cy="1705.8" r="13.5" fill="#474747"/>
<circle cx="1146.1" cy="1718.3" r="13.5" fill="#474747"/>
<circle cx="1126.2" cy="1747.5" r="13.5" fill="#474747"/>
<circle cx="1161.7" cy="1753.8" r="13.5" fill="#474747"/>
<circle cx="1028.2" cy="1751.7" r="13.5" fill="#474747"/>
<circle cx="988.6" cy="1753.8" r="13.5" fill="#474747"/>
<circle cx="953.1" cy="1753.8" r="13.5" fill="#333333"/>
<circle cx="1086.6" cy="1762.1" r="13.5" fill="#474747"/>
<circle cx="1172.1" cy="1490.9" r="13.5" fill="#474747"/>
<circle cx="1057.4" cy="1553.5" r="13.5" fill="#474747"/>
<circle cx="1024.0" cy="1545.2" r="13.5" fill="#333333"/>
<circle cx="1205.5" cy="1643.2" r="13.5" fill="#474747"/>
<circle cx="1186.7" cy="1662.0" r="13.5" fill="#474747"/>
<circle cx="1586.5" cy="1439.0" r="13.5" fill="#474747"/>
<circle cx="1590.7" cy="1479.1" r="14.0" fill="#474747"/>
<circle cx="1569.6" cy="1504.4" r="13.5" fill="#474747"/>
<circle cx="1607.6" cy="1521.3" r="13.5" fill="#333333"/>
<circle cx="1578.0" cy="1538.1" r="13.5" fill="#1c1c1c"/>
<circle cx="1550.6" cy="1550.8" r="13.5" fill="#333333"/>
<circle cx="1599.1" cy="1567.7" r="14.0" fill="#474747"/>
<circle cx="1569.6" cy="1576.1" r="13.5" fill="#474747"/>
<circle cx="1531.6" cy="1584.6" r="14.0" fill="#474747"/>
<circle cx="1502.1" cy="1593.0" r="13.5" fill="#474747"/>
<circle cx="1561.1" cy="1609.9" r="14.0" fill="#474747"/>
<circle cx="1594.9" cy="1609.9" r="14.0" fill="#474747"/>
<circle cx="1468.3" cy="1614.1" r="13.5" fill="#474747"/>
<circle cx="1531.6" cy="1626.8" r="13.5" fill="#474747"/>
<circle cx="1500.0" cy="1631.0" r="13.5" fill="#474747"/>
<circle cx="1561.1" cy="1645.7" r="13.5" fill="#333333"/>
<circle cx="1590.7" cy="1633.1" r="13.5" fill="#474747"/>
<circle cx="1440.9" cy="1635.2" r="13.5" fill="#474747"/>
<circle cx="1476.8" cy="1652.1" r="15.0" fill="#595959"/>
<circle cx="1514.7" cy="1664.7" r="13.5" fill="#333333"/>
<circle cx="1594.9" cy="1666.8" r="13.5" fill="#474747"/>
<circle cx="1546.4" cy="1679.5" r="13.5" fill="#474747"/>
<circle cx="1457.8" cy="1683.7" r="14.0" fill="#474747"/>
<circle cx="1493.6" cy="1694.3" r="13.5" fill="#474747"/>
<circle cx="1428.2" cy="1666.8" r="13.5" fill="#474747"/>
<circle cx="1430.3" cy="1702.7" r="13.5" fill="#474747"/>
<circle cx="1529.5" cy="1711.1" r="13.5" fill="#474747"/>
<circle cx="1607.6" cy="1696.4" r="13.5" fill="#474747"/>
<circle cx="1466.2" cy="1719.6" r="13.5" fill="#333333"/>
<circle cx="1504.2" cy="1734.3" r="13.5" fill="#474747"/>
<circle cx="1552.7" cy="1732.2" r="13.5" fill="#474747"/>
<circle cx="1588.6" cy="1736.5" r="13.5" fill="#474747"/>
<circle cx="1531.6" cy="1757.6" r="13.5" fill="#474747"/>
<circle cx="1563.2" cy="1761.8" r="13.5" fill="#474747"/>
<circle cx="1432.4" cy="1757.6" r="13.5" fill="#333333"/>
<circle cx="1396.6" cy="1742.8" r="13.5" fill="#474747"/>
<circle cx="1356.5" cy="1740.7" r="13.5" fill="#474747"/>
<circle cx="1318.5" cy="1734.3" r="13.5" fill="#474747"/>
<circle cx="1286.9" cy="1736.5" r="13.5" fill="#474747"/>
<circle cx="1297.4" cy="1698.5" r="13.5" fill="#474747"/>
<circle cx="1333.3" cy="1704.8" r="13.5" fill="#333333"/>
<circle cx="1364.9" cy="1711.1" r="13.5" fill="#474747"/>
<circle cx="1394.5" cy="1706.9" r="13.5" fill="#333333"/>
<circle cx="1333.3" cy="1761.8" r="13.5" fill="#333333"/>
<circle cx="1293.2" cy="1761.8" r="13.5" fill="#474747"/>
<circle cx="1367.0" cy="1761.8" r="13.5" fill="#474747"/>
<circle cx="1329.1" cy="1614.1" r="13.5" fill="#474747"/>
<circle cx="1297.4" cy="1624.6" r="13.5" fill="#474747"/>
<circle cx="1293.2" cy="1590.9" r="13.5" fill="#474747"/>
<circle cx="1335.4" cy="1514.9" r="13.5" fill="#474747"/>
<circle cx="1305.9" cy="1495.9" r="13.5" fill="#474747"/>
<circle cx="1299.5" cy="1555.0" r="13.5" fill="#474747"/>
<circle cx="1339.6" cy="1546.6" r="13.5" fill="#474747"/>
<circle cx="1293.4" cy="1171.9" r="11.9" fill="#262626"/>
<circle cx="1314.5" cy="1166.0" r="13.5" fill="#2e2e2e"/>
<circle cx="1340.1" cy="1166.0" r="14.0" fill="#3e3e3e"/>
<circle cx="1241.9" cy="1191.2" r="12.7" fill="#3e3e3e"/>
<circle cx="1258.9" cy="1182.4" r="13.4" fill="#363636"/>
<circle cx="1283.8" cy="1188.3" r="11.6" fill="#464646"/>
<circle cx="1309.5" cy="1186.7" r="13.2" fill="#2e2e2e"/>
<circle cx="1330.1" cy="1189.0" r="13.9" fill="#363636"/>
<circle cx="1350.6" cy="1188.3" r="12.8" fill="#363636"/>
<circle cx="1214.4" cy="1203.9" r="12.3" fill="#4e4e4e"/>
<circle cx="1234.5" cy="1209.3" r="12.7" fill="#3e3e3e"/>
<circle cx="1254.9" cy="1200.4" r="11.9" fill="#2e2e2e"/>
<circle cx="1269.8" cy="1201.1" r="13.5" fill="#3e3e3e"/>
<circle cx="1291.0" cy="1207.8" r="13.1" fill="#3e3e3e"/>
<circle cx="1314.0" cy="1205.0" r="11.6" fill="#2e2e2e"/>
<circle cx="1339.5" cy="1206.8" r="12.8" fill="#262626"/>
<circle cx="1361.8" cy="1203.9" r="12.0" fill="#565656"/>
<circle cx="1382.2" cy="1199.8" r="12.2" fill="#2e2e2e"/>
<circle cx="1183.1" cy="1222.2" r="13.9" fill="#464646"/>
<circle cx="1201.1" cy="1219.7" r="12.6" fill="#363636"/>
<circle cx="1221.3" cy="1222.5" r="13.2" fill="#2e2e2e"/>
<circle cx="1245.8" cy="1227.2" r="13.8" fill="#363636"/>
<circle cx="1266.9" cy="1219.8" r="11.8" fill="#3e3e3e"/>
<circle cx="1280.2" cy="1222.2" r="13.2" fill="#262626"/>
<circle cx="1304.3" cy="1219.9" r="13.5" fill="#363636"/>
<circle cx="1330.0" cy="1219.3" r="13.1" fill="#4e4e4e"/>
<circle cx="1345.7" cy="1220.3" r="13.9" fill="#2e2e2e"/>
<circle cx="1365.2" cy="1227.3" r="13.7" fill="#3e3e3e"/>
<circle cx="1385.6" cy="1224.4" r="11.9" fill="#2e2e2e"/>
<circle cx="1143.1" cy="1242.8" r="13.7" fill="#3e3e3e"/>
<circle cx="1166.2" cy="1236.1" r="13.5" fill="#262626"/>
<circle cx="1185.3" cy="1244.5" r="12.2" fill="#262626"/>
<circle cx="1206.7" cy="1236.0" r="12.5" fill="#464646"/>
<circle cx="1235.7" cy="1242.1" r="12.8" fill="#262626"/>
<circle cx="1249.9" cy="1237.0" r="12.2" fill="#2e2e2e"/>
<circle cx="1270.3" cy="1245.3" r="12.3" fill="#4e4e4e"/>
<circle cx="1297.1" cy="1238.8" r="13.2" fill="#464646"/>
<circle cx="1313.2" cy="1244.0" r="11.6" fill="#363636"/>
<circle cx="1331.7" cy="1241.0" r="12.8" fill="#2e2e2e"/>
<circle cx="1355.0" cy="1240.4" r="13.5" fill="#4e4e4e"/>
<circle cx="1377.8" cy="1240.9" r="13.7" fill="#565656"/>
<circle cx="1404.2" cy="1239.0" r="14.0" fill="#2e2e2e"/>
<circle cx="1008.9" cy="1258.7" r="12.2" fill="#2e2e2e"/>
<circle cx="1051.3" cy="1264.0" r="12.1" fill="#363636"/>
<circle cx="1093.6" cy="1254.1" r="11.7" fill="#3e3e3e"/>
<circle cx="1113.8" cy="1260.7" r="12.8" fill="#2e2e2e"/>
<circle cx="1132.0" cy="1256.8" r="11.9" fill="#262626"/>
<circle cx="1158.9" cy="1258.1" r="12.3" fill="#363636"/>
<circle cx="1176.3" cy="1260.0" r="13.6" fill="#464646"/>
<circle cx="1196.6" cy="1263.0" r="13.7" fill="#565656"/>
<circle cx="1219.9" cy="1257.4" r="11.9" fill="#3e3e3e"/>
<circle cx="1244.2" cy="1260.5" r="13.6" fill="#262626"/>
<circle cx="1265.2" cy="1259.2" r="13.3" fill="#3e3e3e"/>
<circle cx="1287.1" cy="1255.5" r="13.4" fill="#464646"/>
<circle cx="1305.7" cy="1262.2" r="13.6" fill="#262626"/>
<circle cx="1326.8" cy="1263.0" r="13.9" fill="#4e4e4e"/>
<circle cx="1348.4" cy="1255.0" r="11.8" fill="#262626"/>
<circle cx="1366.6" cy="1255.2" r="12.6" fill="#565656"/>
<circle cx="1384.5" cy="1254.3" r="13.2" fill="#464646"/>
<circle cx="1024.2" cy="1278.5" r="12.0" fill="#4e4e4e"/>
<circle cx="1043.5" cy="1275.6" r="13.4" fill="#4e4e4e"/>
<circle cx="1061.5" cy="1278.0" r="12.7" fill="#262626"/>
<circle cx="1084.4" cy="1282.0" r="13.2" fill="#262626"/>
<circle cx="1107.3" cy="1275.2" r="12.2" fill="#464646"/>
<circle cx="1126.2" cy="1280.0" r="12.0" fill="#464646"/>
<circle cx="1152.3" cy="1281.7" r="12.2" fill="#262626"/>
<circle cx="1164.3" cy="1277.4" r="14.0" fill="#3e3e3e"/>
<circle cx="1188.4" cy="1281.5" r="11.7" fill="#2e2e2e"/>
<circle cx="1206.4" cy="1279.8" r="13.9" fill="#363636"/>
<circle cx="1227.8" cy="1280.5" r="12.2" fill="#464646"/>
<circle cx="1248.6" cy="1276.0" r="13.7" fill="#3e3e3e"/>
<circle cx="1273.4" cy="1272.6" r="13.9" fill="#262626"/>
<circle cx="1296.3" cy="1276.4" r="11.9" fill="#4e4e4e"/>
<circle cx="1313.9" cy="1275.5" r="12.3" fill="#565656"/>
<circle cx="1334.7" cy="1275.7" r="11.8" fill="#3e3e3e"/>
<circle cx="1361.8" cy="1279.4" r="12.2" fill="#4e4e4e"/>
<circle cx="1377.2" cy="1276.2" r="13.0" fill="#565656"/>
<circle cx="1398.1" cy="1276.6" r="13.6" fill="#363636"/>
<circle cx="1418.3" cy="1272.8" r="12.2" fill="#4e4e4e"/>
<circle cx="1010.5" cy="1298.0" r="13.7" fill="#4e4e4e"/>
<circle cx="1031.9" cy="1299.6" r="11.8" fill="#464646"/>
<circle cx="1052.7" cy="1293.9" r="12.1" fill="#363636"/>
<circle cx="1076.4" cy="1297.0" r="13.1" fill="#3e3e3e"/>
<circle cx="1093.0" cy="1296.1" r="11.8" fill="#3e3e3e"/>
<circle cx="1117.4" cy="1291.2" r="13.8" fill="#464646"/>
<circle cx="1137.0" cy="1292.7" r="14.0" fill="#363636"/>
<circle cx="1157.5" cy="1291.9" r="12.1" fill="#2e2e2e"/>
<circle cx="1175.7" cy="1296.0" r="12.1" fill="#363636"/>
<circle cx="1197.6" cy="1296.2" r="13.4" fill="#262626"/>
<circle cx="1220.1" cy="1294.6" r="12.0" fill="#464646"/>
<circle cx="1239.7" cy="1298.0" r="12.2" fill="#3e3e3e"/>
<circle cx="1267.7" cy="1291.7" r="12.8" fill="#464646"/>
<circle cx="1286.9" cy="1299.0" r="12.2" fill="#262626"/>
<circle cx="1302.5" cy="1294.5" r="12.6" fill="#3e3e3e"/>
<circle cx="1324.1" cy="1298.6" r="11.8" fill="#262626"/>
<circle cx="1346.3" cy="1298.1" r="12.7" fill="#565656"/>
<circle cx="1368.9" cy="1290.5" r="13.8" fill="#3e3e3e"/>
<circle cx="1393.3" cy="1295.8" r="13.9" fill="#3e3e3e"/>
<circle cx="1407.5" cy="1291.6" r="11.9" fill="#2e2e2e"/>
<circle cx="1435.7" cy="1291.6" r="13.3" fill="#565656"/>
<circle cx="1453.5" cy="1298.1" r="11.7" fill="#3e3e3e"/>
<circle cx="1018.4" cy="1311.3" r="13.0" fill="#565656"/>
<circle cx="1037.6" cy="1311.7" r="12.2" fill="#3e3e3e"/>
<circle cx="1061.7" cy="1317.1" r="12.7" fill="#2e2e2e"/>
<circle cx="1081.8" cy="1311.1" r="13.3" fill="#3e3e3e"/>
<circle cx="1103.6" cy="1308.9" r="13.7" fill="#3e3e3e"/>
<circle cx="1128.0" cy="1309.5" r="13.2" fill="#2e2e2e"/>
<circle cx="1151.8" cy="1310.9" r="13.2" fill="#262626"/>
<circle cx="1170.7" cy="1312.3" r="12.0" fill="#3e3e3e"/>
<circle cx="1192.5" cy="1316.1" r="11.7" fill="#464646"/>
<circle cx="1210.5" cy="1310.7" r="13.6" fill="#565656"/>
<circle cx="1228.8" cy="1310.9" r="13.7" fill="#565656"/>
<circle cx="1248.6" cy="1314.9" r="12.0" fill="#464646"/>
<circle cx="1270.7" cy="1312.8" r="11.6" fill="#4e4e4e"/>
<circle cx="1295.4" cy="1317.9" r="12.0" fill="#262626"/>
<circle cx="1320.2" cy="1310.1" r="13.3" fill="#262626"/>
<circle cx="1333.3" cy="1313.2" r="13.7" fill="#4e4e4e"/>
<circle cx="1359.8" cy="1318.6" r="12.3" fill="#2e2e2e"/>
<circle cx="1375.4" cy="1318.0" r="12.7" fill="#4e4e4e"/>
<circle cx="1397.6" cy="1315.9" r="12.4" fill="#565656"/>
<circle cx="1418.8" cy="1310.4" r="11.7" fill="#262626"/>
<circle cx="1437.3" cy="1312.9" r="12.9" fill="#262626"/>
<circle cx="1465.1" cy="1312.5" r="13.6" fill="#565656"/>
<circle cx="1486.7" cy="1313.0" r="13.3" fill="#262626"/>
<circle cx="1501.5" cy="1314.1" r="12.0" fill="#3e3e3e"/>
<circle cx="1524.1" cy="1317.6" r="13.1" fill="#262626"/>
<circle cx="1006.6" cy="1328.8" r="13.7" fill="#262626"/>
<circle cx="1030.4" cy="1329.6" r="11.6" fill="#464646"/>
<circle cx="1055.5" cy="1333.8" r="12.2" fill="#363636"/>
<circle cx="1076.2" cy="1332.8" r="13.1" fill="#565656"/>
<circle cx="1099.4" cy="1327.1" r="11.8" fill="#2e2e2e"/>
<circle cx="1118.2" cy="1331.5" r="12.5" fill="#565656"/>
<circle cx="1134.5" cy="1331.2" r="11.8" fill="#3e3e3e"/>
<circle cx="1158.0" cy="1326.9" r="12.3" fill="#4e4e4e"/>
<circle cx="1180.9" cy="1328.4" r="12.3" fill="#2e2e2e"/>
<circle cx="1198.2" cy="1330.5" r="13.0" fill="#565656"/>
<circle cx="1221.1" cy="1330.8" r="12.1" fill="#2e2e2e"/>
<circle cx="1237.6" cy="1327.2" r="12.9" fill="#464646"/>
<circle cx="1259.6" cy="1331.1" r="14.0" fill="#262626"/>
<circle cx="1281.6" cy="1327.7" r="12.6" fill="#262626"/>
<circle cx="1309.9" cy="1336.6" r="12.1" fill="#2e2e2e"/>
<circle cx="1325.2" cy="1333.1" r="12.1" fill="#4e4e4e"/>
<circle cx="1347.4" cy="1334.6" r="11.8" fill="#565656"/>
<circle cx="1371.4" cy="1329.8" r="12.2" fill="#464646"/>
<circle cx="1386.5" cy="1329.5" r="12.1" fill="#3e3e3e"/>
<circle cx="1407.5" cy="1328.4" r="12.0" fill="#464646"/>
<circle cx="1426.6" cy="1329.4" r="12.8" fill="#2e2e2e"/>
<circle cx="1449.3" cy="1334.9" r="12.7" fill="#4e4e4e"/>
<circle cx="1468.4" cy="1326.9" r="12.1" fill="#565656"/>
<circle cx="1493.5" cy="1330.6" r="12.1" fill="#363636"/>
<circle cx="1510.5" cy="1332.9" r="13.0" fill="#565656"/>
<circle cx="1540.3" cy="1330.6" r="11.9" fill="#565656"/>
<circle cx="1558.0" cy="1334.6" r="13.9" fill="#4e4e4e"/>
<circle cx="1020.2" cy="1346.5" r="14.0" fill="#2e2e2e"/>
<circle cx="1037.9" cy="1352.4" r="13.5" fill="#2e2e2e"/>
<circle cx="1066.7" cy="1349.1" r="12.0" fill="#363636"/>
<circle cx="1082.6" cy="1347.1" r="12.7" fill="#565656"/>
<circle cx="1105.3" cy="1349.1" r="12.5" fill="#565656"/>
<circle cx="1127.0" cy="1351.4" r="13.1" fill="#262626"/>
<circle cx="1146.5" cy="1347.8" r="13.2" fill="#363636"/>
<circle cx="1167.7" cy="1345.6" r="12.9" fill="#4e4e4e"/>
<circle cx="1188.1" cy="1349.2" r="13.4" fill="#565656"/>
<circle cx="1213.5" cy="1351.5" r="13.3" fill="#3e3e3e"/>
<circle cx="1228.5" cy="1345.1" r="12.6" fill="#2e2e2e"/>
<circle cx="1255.7" cy="1349.1" r="12.7" fill="#363636"/>
<circle cx="1270.1" cy="1345.2" r="11.9" fill="#464646"/>
<circle cx="1297.6" cy="1349.0" r="13.1" fill="#464646"/>
<circle cx="1314.2" cy="1350.1" r="12.4" fill="#2e2e2e"/>
<circle cx="1333.1" cy="1346.8" r="11.8" fill="#262626"/>
<circle cx="1357.4" cy="1353.1" r="12.0" fill="#565656"/>
<circle cx="1374.8" cy="1354.5" r="12.3" fill="#3e3e3e"/>
<circle cx="1400.6" cy="1351.4" r="13.8" fill="#262626"/>
<circle cx="1421.7" cy="1353.3" r="13.1" fill="#2e2e2e"/>
<circle cx="1445.1" cy="1351.3" r="13.6" fill="#464646"/>
<circle cx="1465.8" cy="1346.9" r="11.6" fill="#2e2e2e"/>
<circle cx="1487.9" cy="1346.6" r="11.8" fill="#363636"/>
<circle cx="1502.0" cy="1352.3" r="11.6" fill="#2e2e2e"/>
<circle cx="1526.1" cy="1352.6" r="13.2" fill="#262626"/>
<circle cx="1544.7" cy="1348.9" r="12.9" fill="#3e3e3e"/>
<circle cx="1010.3" cy="1369.8" r="12.8" fill="#3e3e3e"/>
<circle cx="1028.8" cy="1363.3" r="12.7" fill="#3e3e3e"/>
<circle cx="1052.5" cy="1369.4" r="12.6" fill="#565656"/>
<circle cx="1070.8" cy="1368.0" r="11.7" fill="#262626"/>
<circle cx="1093.6" cy="1366.9" r="12.6" fill="#565656"/>
<circle cx="1116.1" cy="1363.6" r="11.8" fill="#4e4e4e"/>
<circle cx="1141.2" cy="1366.4" r="12.8" fill="#4e4e4e"/>
<circle cx="1153.5" cy="1368.3" r="13.1" fill="#3e3e3e"/>
<circle cx="1181.8" cy="1363.5" r="14.0" fill="#262626"/>
<circle cx="1202.3" cy="1371.4" r="11.8" fill="#2e2e2e"/>
<circle cx="1224.9" cy="1366.1" r="13.8" fill="#565656"/>
<circle cx="1238.7" cy="1371.1" r="11.7" fill="#2e2e2e"/>
<circle cx="1261.5" cy="1370.8" r="12.3" fill="#2e2e2e"/>
<circle cx="1285.1" cy="1372.3" r="11.9" fill="#3e3e3e"/>
<circle cx="1305.0" cy="1372.4" r="13.0" fill="#2e2e2e"/>
<circle cx="1327.2" cy="1365.6" r="11.6" fill="#363636"/>
<circle cx="1343.8" cy="1364.8" r="13.2" fill="#363636"/>
<circle cx="1372.0" cy="1364.9" r="12.2" fill="#565656"/>
<circle cx="1391.7" cy="1363.7" r="12.4" fill="#565656"/>
<circle cx="1413.7" cy="1368.8" r="13.2" fill="#464646"/>
<circle cx="1435.0" cy="1365.8" r="13.1" fill="#464646"/>
<circle cx="1450.9" cy="1371.2" r="12.4" fill="#363636"/>
<circle cx="1471.7" cy="1364.7" r="13.4" fill="#363636"/>
<circle cx="1493.4" cy="1365.0" r="13.9" fill="#4e4e4e"/>
<circle cx="1513.0" cy="1368.4" r="13.1" fill="#363636"/>
<circle cx="1540.8" cy="1369.1" r="13.7" fill="#4e4e4e"/>
<circle cx="1559.3" cy="1370.7" r="11.9" fill="#2e2e2e"/>
<circle cx="1017.8" cy="1383.7" r="11.6" fill="#4e4e4e"/>
<circle cx="1038.0" cy="1387.1" r="11.8" fill="#363636"/>
<circle cx="1062.1" cy="1383.7" r="12.3" fill="#464646"/>
<circle cx="1080.8" cy="1385.1" r="12.7" fill="#565656"/>
<circle cx="1101.8" cy="1390.8" r="13.3" fill="#2e2e2e"/>
<circle cx="1126.0" cy="1382.1" r="13.7" fill="#2e2e2e"/>
<circle cx="1150.3" cy="1385.4" r="13.9" fill="#363636"/>
<circle cx="1164.1" cy="1389.6" r="13.0" fill="#363636"/>
<circle cx="1190.3" cy="1387.4" r="13.3" fill="#464646"/>
<circle cx="1208.0" cy="1390.5" r="11.7" fill="#262626"/>
<circle cx="1226.8" cy="1383.3" r="11.6" fill="#2e2e2e"/>
<circle cx="1255.3" cy="1381.5" r="13.1" fill="#464646"/>
<circle cx="1270.5" cy="1385.5" r="13.0" fill="#464646"/>
<circle cx="1294.6" cy="1387.8" r="13.0" fill="#565656"/>
<circle cx="1315.6" cy="1382.1" r="11.6" fill="#4e4e4e"/>
<circle cx="1340.4" cy="1389.2" r="12.8" fill="#4e4e4e"/>
<circle cx="1356.3" cy="1385.8" r="11.7" fill="#3e3e3e"/>
<circle cx="1380.1" cy="1383.2" r="12.2" fill="#262626"/>
<circle cx="1400.9" cy="1382.7" r="13.8" fill="#4e4e4e"/>
<circle cx="1424.9" cy="1384.1" r="12.2" fill="#262626"/>
<circle cx="1442.0" cy="1385.8" r="13.8" fill="#565656"/>
<circle cx="1467.2" cy="1384.4" r="11.7" fill="#2e2e2e"/>
<circle cx="1483.6" cy="1383.1" r="13.6" fill="#2e2e2e"/>
<circle cx="1501.5" cy="1383.0" r="12.0" fill="#363636"/>
<circle cx="1524.4" cy="1387.4" r="13.8" fill="#3e3e3e"/>
<circle cx="1547.8" cy="1388.3" r="13.6" fill="#4e4e4e"/>
<circle cx="1029.3" cy="1408.5" r="12.0" fill="#565656"/>
<circle cx="1054.2" cy="1400.4" r="11.9" fill="#2e2e2e"/>
<circle cx="1069.3" cy="1400.7" r="12.4" fill="#2e2e2e"/>
<circle cx="1091.4" cy="1399.9" r="11.8" fill="#262626"/>
<circle cx="1117.4" cy="1400.0" r="13.3" fill="#262626"/>
<circle cx="1132.7" cy="1405.5" r="12.0" fill="#363636"/>
<circle cx="1162.5" cy="1404.9" r="11.7" fill="#4e4e4e"/>
<circle cx="1182.7" cy="1408.7" r="11.8" fill="#3e3e3e"/>
<circle cx="1197.1" cy="1400.7" r="13.9" fill="#262626"/>
<circle cx="1225.1" cy="1407.1" r="13.6" fill="#262626"/>
<circle cx="1243.3" cy="1402.5" r="11.8" fill="#262626"/>
<circle cx="1265.9" cy="1406.1" r="12.3" fill="#363636"/>
<circle cx="1283.2" cy="1399.8" r="13.8" fill="#363636"/>
<circle cx="1300.5" cy="1407.2" r="13.4" fill="#363636"/>
<circle cx="1327.0" cy="1404.4" r="13.0" fill="#363636"/>
<circle cx="1342.3" cy="1403.7" r="12.8" fill="#3e3e3e"/>
<circle cx="1364.0" cy="1404.3" r="12.8" fill="#262626"/>
<circle cx="1386.2" cy="1408.2" r="12.9" fill="#262626"/>
<circle cx="1407.9" cy="1404.0" r="12.0" fill="#464646"/>
<circle cx="1433.6" cy="1409.4" r="12.4" fill="#262626"/>
<circle cx="1448.0" cy="1406.6" r="12.0" fill="#565656"/>
<circle cx="1472.9" cy="1403.1" r="12.8" fill="#565656"/>
<circle cx="1494.8" cy="1401.2" r="12.0" fill="#565656"/>
<circle cx="1517.0" cy="1404.6" r="13.8" fill="#262626"/>
<circle cx="1538.7" cy="1404.5" r="12.9" fill="#4e4e4e"/>
<circle cx="1553.0" cy="1402.9" r="12.5" fill="#262626"/>
<circle cx="1016.8" cy="1419.9" r="12.6" fill="#363636"/>
<circle cx="1042.9" cy="1419.5" r="12.1" fill="#4e4e4e"/>
<circle cx="1063.1" cy="1423.1" r="13.2" fill="#565656"/>
<circle cx="1085.6" cy="1418.1" r="12.3" fill="#464646"/>
<circle cx="1102.1" cy="1426.2" r="12.9" fill="#4e4e4e"/>
<circle cx="1124.7" cy="1422.4" r="13.4" fill="#4e4e4e"/>
<circle cx="1148.3" cy="1419.1" r="13.1" fill="#3e3e3e"/>
<circle cx="1170.5" cy="1422.9" r="12.3" fill="#363636"/>
<circle cx="1191.5" cy="1426.2" r="13.3" fill="#2e2e2e"/>
<circle cx="1215.2" cy="1425.0" r="12.8" fill="#464646"/>
<circle cx="1228.1" cy="1421.1" r="12.1" fill="#2e2e2e"/>
<circle cx="1257.0" cy="1427.7" r="13.9" fill="#2e2e2e"/>
<circle cx="1269.5" cy="1421.6" r="13.5" fill="#2e2e2e"/>
<circle cx="1296.8" cy="1422.1" r="11.8" fill="#2e2e2e"/>
<circle cx="1319.6" cy="1420.6" r="12.7" fill="#3e3e3e"/>
<circle cx="1331.6" cy="1426.3" r="13.2" fill="#3e3e3e"/>
<circle cx="1357.5" cy="1424.1" r="11.6" fill="#3e3e3e"/>
<circle cx="1376.1" cy="1425.2" r="13.4" fill="#262626"/>
<circle cx="1403.6" cy="1422.1" r="13.0" fill="#464646"/>
<circle cx="1422.0" cy="1426.2" r="13.3" fill="#4e4e4e"/>
<circle cx="1445.3" cy="1425.5" r="13.0" fill="#4e4e4e"/>
<circle cx="1459.8" cy="1419.6" r="12.6" fill="#262626"/>
<circle cx="1481.6" cy="1424.1" r="13.7" fill="#262626"/>
<circle cx="1501.9" cy="1421.8" r="13.1" fill="#4e4e4e"/>
<circle cx="1523.0" cy="1422.0" r="11.5" fill="#3e3e3e"/>
<circle cx="1550.1" cy="1423.0" r="13.8" fill="#4e4e4e"/>
<circle cx="1027.4" cy="1441.4" r="13.3" fill="#2e2e2e"/>
<circle cx="1057.5" cy="1438.0" r="11.8" fill="#363636"/>
<circle cx="1074.7" cy="1441.4" r="12.7" fill="#4e4e4e"/>
<circle cx="1090.2" cy="1443.9" r="12.8" fill="#363636"/>
<circle cx="1115.1" cy="1445.5" r="14.0" fill="#2e2e2e"/>
<circle cx="1133.8" cy="1441.1" r="13.3" fill="#262626"/>
<circle cx="1159.1" cy="1442.4" r="12.2" fill="#363636"/>
<circle cx="1178.0" cy="1436.1" r="13.8" fill="#3e3e3e"/>
<circle cx="1201.3" cy="1442.7" r="12.2" fill="#464646"/>
<circle cx="1218.2" cy="1443.4" r="13.9" fill="#464646"/>
<circle cx="1246.9" cy="1445.6" r="12.0" fill="#3e3e3e"/>
<circle cx="1259.3" cy="1443.7" r="13.5" fill="#565656"/>
<circle cx="1280.9" cy="1442.4" r="12.1" fill="#4e4e4e"/>
<circle cx="1309.6" cy="1439.5" r="13.6" fill="#4e4e4e"/>
<circle cx="1329.0" cy="1440.1" r="13.4" fill="#363636"/>
<circle cx="1348.5" cy="1443.8" r="12.4" fill="#3e3e3e"/>
<circle cx="1371.5" cy="1438.7" r="13.2" fill="#3e3e3e"/>
<circle cx="1393.8" cy="1442.8" r="11.5" fill="#3e3e3e"/>
<circle cx="1412.2" cy="1438.8" r="13.1" fill="#2e2e2e"/>
<circle cx="1429.2" cy="1440.8" r="13.1" fill="#464646"/>
<circle cx="1453.6" cy="1439.6" r="13.6" fill="#363636"/>
<circle cx="1468.6" cy="1444.3" r="13.5" fill="#363636"/>
<circle cx="1490.4" cy="1444.3" r="13.0" fill="#4e4e4e"/>
<circle cx="1516.6" cy="1438.1" r="13.1" fill="#262626"/>
<circle cx="1533.5" cy="1437.0" r="13.6" fill="#2e2e2e"/>
<circle cx="1022.6" cy="1461.0" r="11.7" fill="#565656"/>
<circle cx="1046.5" cy="1459.6" r="13.6" fill="#4e4e4e"/>
<circle cx="1060.5" cy="1461.1" r="11.7" fill="#464646"/>
<circle cx="1087.9" cy="1460.9" r="12.9" fill="#262626"/>
<circle cx="1103.1" cy="1456.5" r="12.7" fill="#2e2e2e"/>
<circle cx="1127.1" cy="1459.0" r="13.3" fill="#2e2e2e"/>
<circle cx="1145.0" cy="1455.8" r="13.7" fill="#464646"/>
<circle cx="1163.6" cy="1462.6" r="13.2" fill="#3e3e3e"/>
<circle cx="1189.5" cy="1457.1" r="12.4" fill="#3e3e3e"/>
<circle cx="1209.7" cy="1463.8" r="12.0" fill="#262626"/>
<circle cx="1230.1" cy="1460.6" r="13.0" fill="#262626"/>
<circle cx="1269.4" cy="1459.0" r="13.7" fill="#565656"/>
<circle cx="1289.8" cy="1461.3" r="11.8" fill="#4e4e4e"/>
<circle cx="1311.4" cy="1460.8" r="12.7" fill="#363636"/>
<circle cx="1336.8" cy="1461.9" r="12.2" fill="#2e2e2e"/>
<circle cx="1355.9" cy="1456.7" r="13.6" fill="#262626"/>
<circle cx="1376.4" cy="1462.4" r="12.3" fill="#3e3e3e"/>
<circle cx="1404.3" cy="1462.9" r="13.9" fill="#363636"/>
<circle cx="1422.0" cy="1462.1" r="12.0" fill="#363636"/>
<circle cx="1443.6" cy="1455.4" r="11.7" fill="#4e4e4e"/>
<circle cx="1467.5" cy="1458.2" r="13.7" fill="#464646"/>
<circle cx="1484.0" cy="1454.7" r="11.8" fill="#363636"/>
<circle cx="1500.0" cy="1462.4" r="13.0" fill="#3e3e3e"/>
<circle cx="1033.7" cy="1476.9" r="11.9" fill="#565656"/>
<circle cx="1054.6" cy="1481.0" r="13.4" fill="#3e3e3e"/>
<circle cx="1078.1" cy="1478.9" r="13.7" fill="#363636"/>
<circle cx="1091.4" cy="1475.4" r="12.1" fill="#4e4e4e"/>
<circle cx="1114.0" cy="1476.6" r="11.6" fill="#363636"/>
<circle cx="1137.7" cy="1478.1" r="12.7" fill="#262626"/>
<circle cx="1158.2" cy="1480.6" r="13.5" fill="#565656"/>
<circle cx="1201.8" cy="1478.3" r="14.0" fill="#4e4e4e"/>
<circle cx="1220.8" cy="1476.5" r="11.7" fill="#262626"/>
<circle cx="1241.7" cy="1481.3" r="11.5" fill="#4e4e4e"/>
<circle cx="1258.0" cy="1479.2" r="14.0" fill="#262626"/>
<circle cx="1287.6" cy="1474.5" r="11.8" fill="#262626"/>
<circle cx="1300.2" cy="1479.5" r="12.6" fill="#2e2e2e"/>
<circle cx="1328.4" cy="1481.6" r="13.4" fill="#363636"/>
<circle cx="1349.1" cy="1480.9" r="13.4" fill="#4e4e4e"/>
<circle cx="1365.9" cy="1477.9" r="12.7" fill="#3e3e3e"/>
<circle cx="1393.3" cy="1474.9" r="13.3" fill="#262626"/>
<circle cx="1405.1" cy="1472.5" r="13.2" fill="#4e4e4e"/>
<circle cx="1432.2" cy="1476.2" r="13.3" fill="#363636"/>
<circle cx="1448.7" cy="1481.0" r="13.0" fill="#3e3e3e"/>
<circle cx="1471.2" cy="1481.8" r="12.6" fill="#4e4e4e"/>
<circle cx="1047.2" cy="1497.6" r="13.0" fill="#565656"/>
<circle cx="1067.2" cy="1497.8" r="13.6" fill="#262626"/>
<circle cx="1085.5" cy="1493.6" r="13.9" fill="#3e3e3e"/>
<circle cx="1103.0" cy="1494.4" r="13.0" fill="#3e3e3e"/>
<circle cx="1130.5" cy="1498.6" r="13.2" fill="#363636"/>
<circle cx="1145.7" cy="1493.2" r="13.0" fill="#2e2e2e"/>
<circle cx="1215.3" cy="1498.5" r="13.2" fill="#464646"/>
<circle cx="1235.6" cy="1494.0" r="12.8" fill="#262626"/>
<circle cx="1252.3" cy="1494.4" r="13.4" fill="#565656"/>
<circle cx="1277.8" cy="1492.9" r="11.6" fill="#464646"/>
<circle cx="1293.5" cy="1497.6" r="13.0" fill="#363636"/>
<circle cx="1310.6" cy="1494.4" r="11.7" fill="#464646"/>
<circle cx="1339.6" cy="1498.3" r="12.5" fill="#2e2e2e"/>
<circle cx="1357.7" cy="1493.1" r="12.8" fill="#565656"/>
<circle cx="1378.3" cy="1496.4" r="12.0" fill="#2e2e2e"/>
<circle cx="1395.4" cy="1498.6" r="12.4" fill="#363636"/>
<circle cx="1421.1" cy="1494.6" r="13.6" fill="#464646"/>
<circle cx="1439.0" cy="1499.8" r="12.4" fill="#3e3e3e"/>
<circle cx="1458.6" cy="1496.9" r="11.7" fill="#565656"/>
<circle cx="1481.7" cy="1490.8" r="12.8" fill="#363636"/>
<circle cx="1036.6" cy="1511.3" r="12.3" fill="#262626"/>
<circle cx="1057.9" cy="1512.5" r="11.6" fill="#262626"/>
<circle cx="1074.6" cy="1517.4" r="12.7" fill="#3e3e3e"/>
<circle cx="1098.5" cy="1517.7" r="13.0" fill="#565656"/>
<circle cx="1115.0" cy="1509.9" r="12.1" fill="#262626"/>
<circle cx="1137.6" cy="1515.1" r="12.8" fill="#4e4e4e"/>
<circle cx="1154.8" cy="1517.2" r="13.9" fill="#363636"/>
<circle cx="1224.4" cy="1509.2" r="12.8" fill="#565656"/>
<circle cx="1244.4" cy="1516.3" r="11.6" fill="#3e3e3e"/>
<circle cx="1259.4" cy="1516.3" r="13.2" fill="#2e2e2e"/>
<circle cx="1282.0" cy="1514.6" r="13.1" fill="#565656"/>
<circle cx="1325.8" cy="1510.4" r="13.5" fill="#2e2e2e"/>
<circle cx="1351.1" cy="1517.6" r="13.3" fill="#3e3e3e"/>
<circle cx="1365.0" cy="1509.1" r="12.1" fill="#565656"/>
<circle cx="1393.3" cy="1517.4" r="11.8" fill="#4e4e4e"/>
<circle cx="1409.5" cy="1509.7" r="13.6" fill="#3e3e3e"/>
<circle cx="1432.3" cy="1513.2" r="12.3" fill="#363636"/>
<circle cx="1449.3" cy="1509.9" r="11.9" fill="#363636"/>
<circle cx="1470.2" cy="1509.3" r="12.6" fill="#4e4e4e"/>
<circle cx="1042.6" cy="1533.2" r="13.2" fill="#565656"/>
<circle cx="1060.6" cy="1531.7" r="11.8" fill="#363636"/>
<circle cx="1087.0" cy="1536.6" r="14.0" fill="#3e3e3e"/>
<circle cx="1110.5" cy="1536.2" r="12.5" fill="#262626"/>
<circle cx="1125.7" cy="1528.5" r="13.3" fill="#565656"/>
<circle cx="1145.4" cy="1536.7" r="12.6" fill="#262626"/>
<circle cx="1168.6" cy="1532.0" r="11.5" fill="#3e3e3e"/>
<circle cx="1205.9" cy="1531.0" r="12.9" fill="#363636"/>
<circle cx="1227.9" cy="1528.7" r="12.1" fill="#565656"/>
<circle cx="1249.3" cy="1532.9" r="11.7" fill="#565656"/>
<circle cx="1274.6" cy="1531.9" r="11.9" fill="#363636"/>
<circle cx="1336.7" cy="1535.3" r="12.8" fill="#262626"/>
<circle cx="1356.0" cy="1529.7" r="13.7" fill="#4e4e4e"/>
<circle cx="1378.4" cy="1527.1" r="12.7" fill="#565656"/>
<circle cx="1403.2" cy="1529.6" r="12.9" fill="#2e2e2e"/>
<circle cx="1425.4" cy="1527.3" r="12.4" fill="#4e4e4e"/>
<circle cx="1442.4" cy="1527.0" r="13.8" fill="#464646"/>
<circle cx="1467.2" cy="1527.6" r="13.3" fill="#363636"/>
<circle cx="1049.8" cy="1546.1" r="12.9" fill="#363636"/>
<circle cx="1078.6" cy="1545.3" r="13.3" fill="#4e4e4e"/>
<circle cx="1092.6" cy="1553.5" r="12.9" fill="#4e4e4e"/>
<circle cx="1116.2" cy="1552.1" r="12.4" fill="#262626"/>
<circle cx="1132.9" cy="1546.9" r="11.8" fill="#363636"/>
<circle cx="1157.9" cy="1550.1" r="11.8" fill="#363636"/>
<circle cx="1175.2" cy="1553.9" r="13.0" fill="#464646"/>
<circle cx="1203.6" cy="1546.6" r="12.7" fill="#464646"/>
<circle cx="1220.0" cy="1554.6" r="13.8" fill="#262626"/>
<circle cx="1240.9" cy="1549.3" r="13.0" fill="#565656"/>
<circle cx="1258.4" cy="1554.8" r="13.4" fill="#262626"/>
<circle cx="1282.4" cy="1547.5" r="13.3" fill="#363636"/>
<circle cx="1308.4" cy="1550.7" r="13.5" fill="#363636"/>
<circle cx="1329.5" cy="1545.6" r="11.9" fill="#464646"/>
<circle cx="1348.8" cy="1548.6" r="12.6" fill="#565656"/>
<circle cx="1369.3" cy="1548.7" r="12.0" fill="#464646"/>
<circle cx="1387.2" cy="1547.1" r="11.6" fill="#4e4e4e"/>
<circle cx="1406.4" cy="1554.8" r="14.0" fill="#565656"/>
<circle cx="1430.5" cy="1545.6" r="11.6" fill="#262626"/>
<circle cx="1453.4" cy="1547.7" r="13.1" fill="#4e4e4e"/>
<circle cx="1062.9" cy="1568.4" r="13.8" fill="#363636"/>
<circle cx="1085.3" cy="1566.0" r="11.7" fill="#4e4e4e"/>
<circle cx="1106.0" cy="1571.7" r="13.2" fill="#464646"/>
<circle cx="1123.7" cy="1567.1" r="13.3" fill="#464646"/>
<circle cx="1147.1" cy="1568.8" r="12.7" fill="#464646"/>
<circle cx="1171.7" cy="1563.6" r="12.1" fill="#363636"/>
<circle cx="1189.6" cy="1567.1" r="12.5" fill="#464646"/>
<circle cx="1214.7" cy="1564.9" r="12.3" fill="#2e2e2e"/>
<circle cx="1229.8" cy="1566.0" r="12.2" fill="#2e2e2e"/>
<circle cx="1255.2" cy="1564.9" r="13.0" fill="#262626"/>
<circle cx="1272.0" cy="1569.9" r="12.5" fill="#464646"/>
<circle cx="1293.9" cy="1570.6" r="12.8" fill="#262626"/>
<circle cx="1320.4" cy="1570.1" r="12.5" fill="#2e2e2e"/>
<circle cx="1338.2" cy="1564.7" r="13.0" fill="#2e2e2e"/>
<circle cx="1361.0" cy="1571.5" r="11.7" fill="#464646"/>
<circle cx="1382.1" cy="1572.5" r="12.2" fill="#3e3e3e"/>
<circle cx="1400.8" cy="1569.6" r="11.8" fill="#4e4e4e"/>
<circle cx="1424.2" cy="1563.3" r="12.9" fill="#565656"/>
<circle cx="1437.7" cy="1567.3" r="11.9" fill="#464646"/>
<circle cx="1056.0" cy="1585.8" r="13.0" fill="#3e3e3e"/>
<circle cx="1069.9" cy="1590.7" r="13.9" fill="#363636"/>
<circle cx="1096.1" cy="1583.9" r="12.0" fill="#363636"/>
<circle cx="1115.3" cy="1590.6" r="11.6" fill="#262626"/>
<circle cx="1134.6" cy="1590.4" r="13.8" fill="#363636"/>
<circle cx="1160.7" cy="1586.8" r="12.8" fill="#3e3e3e"/>
<circle cx="1179.2" cy="1588.3" r="12.7" fill="#3e3e3e"/>
<circle cx="1195.4" cy="1588.2" r="13.9" fill="#3e3e3e"/>
<circle cx="1222.8" cy="1586.7" r="12.5" fill="#262626"/>
<circle cx="1242.0" cy="1587.9" r="11.9" fill="#464646"/>
<circle cx="1259.9" cy="1585.7" r="12.6" fill="#3e3e3e"/>
<circle cx="1285.2" cy="1591.4" r="13.2" fill="#363636"/>
<circle cx="1307.5" cy="1582.4" r="12.3" fill="#363636"/>
<circle cx="1330.8" cy="1589.7" r="11.9" fill="#464646"/>
<circle cx="1348.6" cy="1584.4" r="13.6" fill="#363636"/>
<circle cx="1372.9" cy="1590.3" r="13.1" fill="#3e3e3e"/>
<circle cx="1389.2" cy="1589.6" r="12.8" fill="#2e2e2e"/>
<circle cx="1406.9" cy="1583.3" r="12.9" fill="#4e4e4e"/>
<circle cx="1427.1" cy="1587.2" r="13.1" fill="#4e4e4e"/>
<circle cx="1080.6" cy="1600.7" r="13.9" fill="#2e2e2e"/>
<circle cx="1105.4" cy="1604.3" r="13.5" fill="#3e3e3e"/>
<circle cx="1122.1" cy="1599.8" r="12.9" fill="#565656"/>
<circle cx="1143.9" cy="1602.0" r="11.9" fill="#363636"/>
<circle cx="1166.2" cy="1600.6" r="11.7" fill="#464646"/>
<circle cx="1186.4" cy="1605.9" r="11.6" fill="#262626"/>
<circle cx="1214.4" cy="1605.5" r="12.6" fill="#262626"/>
<circle cx="1232.7" cy="1602.1" r="11.9" fill="#262626"/>
<circle cx="1253.4" cy="1601.4" r="13.7" fill="#262626"/>
<circle cx="1276.7" cy="1602.7" r="12.1" fill="#464646"/>
<circle cx="1298.4" cy="1609.4" r="12.1" fill="#262626"/>
<circle cx="1314.4" cy="1606.8" r="12.5" fill="#2e2e2e"/>
<circle cx="1335.5" cy="1606.8" r="13.5" fill="#262626"/>
<circle cx="1354.9" cy="1601.4" r="12.4" fill="#363636"/>
<circle cx="1373.6" cy="1608.5" r="12.9" fill="#3e3e3e"/>
<circle cx="1395.6" cy="1605.0" r="12.3" fill="#3e3e3e"/>
<circle cx="1075.3" cy="1623.6" r="13.9" fill="#363636"/>
<circle cx="1095.0" cy="1620.1" r="13.2" fill="#3e3e3e"/>
<circle cx="1120.4" cy="1627.8" r="13.7" fill="#464646"/>
<circle cx="1137.9" cy="1621.5" r="12.5" fill="#2e2e2e"/>
<circle cx="1202.6" cy="1618.1" r="12.9" fill="#4e4e4e"/>
<circle cx="1219.1" cy="1621.7" r="13.2" fill="#262626"/>
<circle cx="1244.8" cy="1620.2" r="13.2" fill="#2e2e2e"/>
<circle cx="1259.1" cy="1623.5" r="13.5" fill="#363636"/>
<circle cx="1286.6" cy="1619.8" r="12.3" fill="#4e4e4e"/>
<circle cx="1302.3" cy="1619.1" r="12.5" fill="#4e4e4e"/>
<circle cx="1324.6" cy="1626.3" r="13.4" fill="#3e3e3e"/>
<circle cx="1350.8" cy="1626.4" r="13.8" fill="#2e2e2e"/>
<circle cx="1364.8" cy="1621.5" r="13.2" fill="#565656"/>
<circle cx="1387.5" cy="1622.0" r="13.3" fill="#4e4e4e"/>
<circle cx="1088.9" cy="1637.1" r="13.4" fill="#565656"/>
<circle cx="1103.4" cy="1636.5" r="13.0" fill="#565656"/>
<circle cx="1128.5" cy="1645.8" r="11.8" fill="#4e4e4e"/>
<circle cx="1190.7" cy="1638.2" r="11.7" fill="#464646"/>
<circle cx="1215.0" cy="1640.3" r="13.2" fill="#363636"/>
<circle cx="1233.9" cy="1644.3" r="13.1" fill="#4e4e4e"/>
<circle cx="1252.6" cy="1642.8" r="12.6" fill="#2e2e2e"/>
<circle cx="1273.6" cy="1645.3" r="12.7" fill="#2e2e2e"/>
<circle cx="1291.4" cy="1645.5" r="13.5" fill="#565656"/>
<circle cx="1313.1" cy="1641.5" r="13.1" fill="#565656"/>
<circle cx="1336.9" cy="1638.5" r="11.9" fill="#262626"/>
<circle cx="1356.0" cy="1636.9" r="12.3" fill="#4e4e4e"/>
<circle cx="1097.0" cy="1658.7" r="11.9" fill="#262626"/>
<circle cx="1115.5" cy="1659.9" r="11.9" fill="#363636"/>
<circle cx="1132.7" cy="1654.3" r="12.7" fill="#565656"/>
<circle cx="1160.5" cy="1657.5" r="12.9" fill="#4e4e4e"/>
<circle cx="1175.1" cy="1659.1" r="12.7" fill="#3e3e3e"/>
<circle cx="1202.8" cy="1657.4" r="13.8" fill="#363636"/>
<circle cx="1222.4" cy="1660.5" r="13.1" fill="#4e4e4e"/>
<circle cx="1239.5" cy="1656.7" r="13.4" fill="#2e2e2e"/>
<circle cx="1258.3" cy="1658.2" r="12.2" fill="#2e2e2e"/>
<circle cx="1280.9" cy="1660.6" r="13.7" fill="#565656"/>
<circle cx="1306.8" cy="1655.2" r="13.6" fill="#4e4e4e"/>
<circle cx="1328.4" cy="1657.5" r="13.1" fill="#2e2e2e"/>
<circle cx="1128.6" cy="1681.3" r="12.6" fill="#262626"/>
<circle cx="1149.2" cy="1680.7" r="11.9" fill="#4e4e4e"/>
<circle cx="1166.5" cy="1676.8" r="13.2" fill="#464646"/>
<circle cx="1190.2" cy="1677.1" r="12.3" fill="#464646"/>
<circle cx="1210.1" cy="1682.1" r="13.7" fill="#4e4e4e"/>
<circle cx="1236.2" cy="1682.0" r="11.7" fill="#464646"/>
<circle cx="1255.6" cy="1679.6" r="13.0" fill="#363636"/>
<circle cx="1271.5" cy="1678.1" r="12.7" fill="#363636"/>
<circle cx="1296.0" cy="1675.4" r="12.8" fill="#363636"/>
<circle cx="1199.8" cy="1691.5" r="13.4" fill="#363636"/>
<circle cx="1216.6" cy="1692.9" r="11.6" fill="#363636"/>
<circle cx="1262.6" cy="1691.8" r="12.6" fill="#2e2e2e"/>
</g></g>
<rect x="929.7" y="1081.0" width="689.8" height="690.5" fill="none" stroke="#0a0a0a" stroke-width="6.0"/>
<line x1="1521" y1="1099" x2="1607.6" y2="1099" stroke="#111" stroke-width="6"/>
<text x="1536.0" y="1127.5" font-size="17.0" text-anchor="start" fill="#444" style="font-family:'Liberation Sans',Arial,sans-serif" textLength="57.0" lengthAdjust="spacingAndGlyphs" >50 nm</text>
</svg></body></html>
